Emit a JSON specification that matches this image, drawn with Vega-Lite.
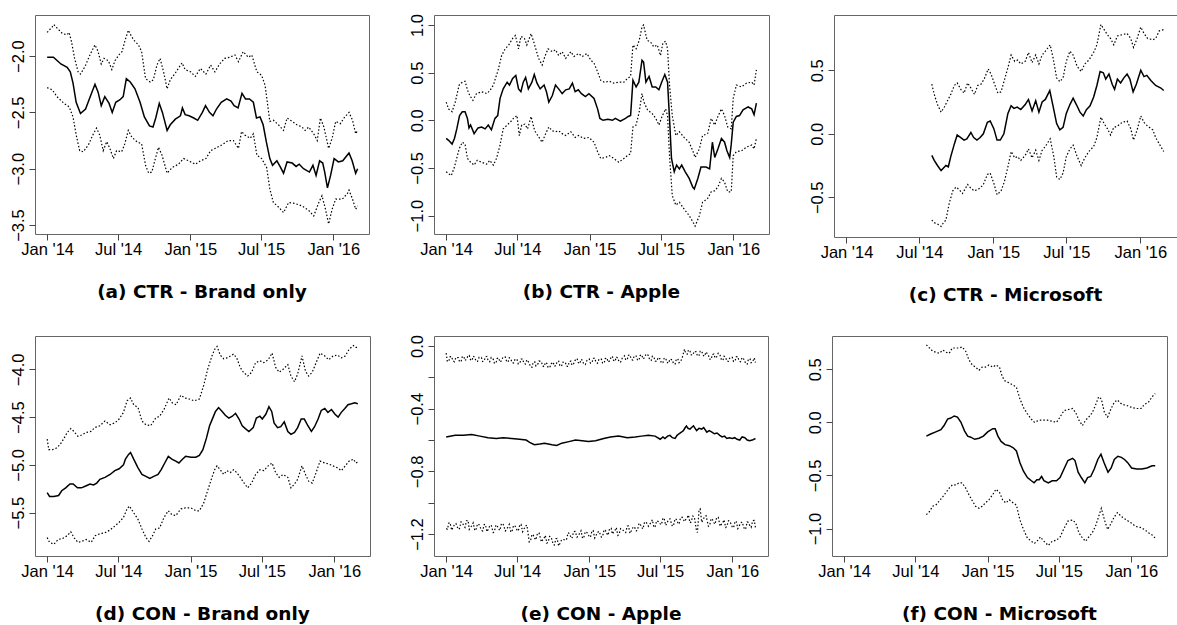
{
"$schema": "https://vega.github.io/schema/vega-lite/v6.json",
"padding": {"left": 9, "top": 13, "right": 0, "bottom": 0},
"background": "white",
"config": {
"view": {"stroke": "#666", "strokeWidth": 1},
"axis": {"domain": false, "grid": false, "tickColor": "#444", "tickSize": 6, "tickWidth": 1, "labelFont": "Liberation Sans", "labelFontSize": 16.5, "labelColor": "#000"},
"axisX": {"labelPadding": 1, "labelFlush": false, "labelOverlap": false},
"axisY": {"labelAngle": -90, "labelAlign": "center", "labelBaseline": "bottom", "labelPadding": 3, "labelOverlap": false},
"title": {"font": "DejaVu Sans", "fontSize": 18.5, "fontWeight": "bold", "color": "#000", "orient": "bottom", "frame": "group", "offset": 25, "anchor": "middle"}
},
"datasets": {
"a": [
{"s":"m","d":"2014-01-01","v":-2.01},{"s":"m","d":"2014-01-17","v":-2.01},{"s":"m","d":"2014-02-05","v":-2.07},{"s":"m","d":"2014-02-21","v":-2.10},{"s":"m","d":"2014-03-01","v":-2.14},{"s":"m","d":"2014-03-08","v":-2.24},{"s":"m","d":"2014-03-16","v":-2.41},{"s":"m","d":"2014-03-27","v":-2.51},{"s":"m","d":"2014-04-09","v":-2.47},{"s":"m","d":"2014-04-22","v":-2.35},{"s":"m","d":"2014-05-03","v":-2.25},{"s":"m","d":"2014-05-11","v":-2.32},{"s":"m","d":"2014-05-19","v":-2.44},{"s":"m","d":"2014-05-28","v":-2.36},{"s":"m","d":"2014-06-08","v":-2.42},{"s":"m","d":"2014-06-16","v":-2.50},{"s":"m","d":"2014-06-25","v":-2.41},{"s":"m","d":"2014-07-05","v":-2.39},{"s":"m","d":"2014-07-14","v":-2.36},{"s":"m","d":"2014-07-22","v":-2.20},{"s":"m","d":"2014-08-01","v":-2.23},{"s":"m","d":"2014-08-13","v":-2.29},{"s":"m","d":"2014-08-26","v":-2.41},{"s":"m","d":"2014-09-06","v":-2.54},{"s":"m","d":"2014-09-19","v":-2.62},{"s":"m","d":"2014-09-28","v":-2.63},{"s":"m","d":"2014-10-05","v":-2.55},{"s":"m","d":"2014-10-14","v":-2.42},{"s":"m","d":"2014-10-22","v":-2.50},{"s":"m","d":"2014-11-03","v":-2.66},{"s":"m","d":"2014-11-11","v":-2.61},{"s":"m","d":"2014-11-24","v":-2.56},{"s":"m","d":"2014-12-07","v":-2.53},{"s":"m","d":"2014-12-12","v":-2.46},{"s":"m","d":"2014-12-19","v":-2.52},{"s":"m","d":"2014-12-29","v":-2.53},{"s":"m","d":"2015-01-10","v":-2.55},{"s":"m","d":"2015-01-20","v":-2.57},{"s":"m","d":"2015-02-01","v":-2.50},{"s":"m","d":"2015-02-09","v":-2.44},{"s":"m","d":"2015-02-19","v":-2.50},{"s":"m","d":"2015-02-28","v":-2.53},{"s":"m","d":"2015-03-09","v":-2.47},{"s":"m","d":"2015-03-21","v":-2.41},{"s":"m","d":"2015-04-04","v":-2.38},{"s":"m","d":"2015-04-15","v":-2.40},{"s":"m","d":"2015-04-23","v":-2.44},{"s":"m","d":"2015-05-03","v":-2.46},{"s":"m","d":"2015-05-13","v":-2.33},{"s":"m","d":"2015-05-22","v":-2.38},{"s":"m","d":"2015-06-01","v":-2.38},{"s":"m","d":"2015-06-11","v":-2.41},{"s":"m","d":"2015-06-19","v":-2.55},{"s":"m","d":"2015-06-28","v":-2.54},{"s":"m","d":"2015-07-06","v":-2.61},{"s":"m","d":"2015-07-14","v":-2.76},{"s":"m","d":"2015-07-23","v":-2.91},{"s":"m","d":"2015-07-30","v":-2.97},{"s":"m","d":"2015-08-10","v":-2.93},{"s":"m","d":"2015-08-18","v":-2.98},{"s":"m","d":"2015-08-27","v":-3.04},{"s":"m","d":"2015-09-05","v":-2.94},{"s":"m","d":"2015-09-18","v":-2.95},{"s":"m","d":"2015-09-28","v":-2.98},{"s":"m","d":"2015-10-06","v":-2.96},{"s":"m","d":"2015-10-17","v":-3.00},{"s":"m","d":"2015-11-01","v":-3.03},{"s":"m","d":"2015-11-10","v":-2.97},{"s":"m","d":"2015-11-18","v":-3.06},{"s":"m","d":"2015-11-27","v":-2.93},{"s":"m","d":"2015-12-05","v":-2.95},{"s":"m","d":"2015-12-10","v":-3.03},{"s":"m","d":"2015-12-17","v":-3.17},{"s":"m","d":"2015-12-25","v":-3.06},{"s":"m","d":"2016-01-03","v":-2.91},{"s":"m","d":"2016-01-14","v":-2.94},{"s":"m","d":"2016-01-25","v":-2.93},{"s":"m","d":"2016-02-10","v":-2.86},{"s":"m","d":"2016-02-18","v":-2.93},{"s":"m","d":"2016-02-27","v":-3.04},{"s":"m","d":"2016-03-03","v":-3.00},
{"s":"u","d":"2014-01-01","v":-1.79},{"s":"u","d":"2014-01-14","v":-1.74},{"s":"u","d":"2014-01-18","v":-1.72},{"s":"u","d":"2014-01-26","v":-1.75},{"s":"u","d":"2014-02-09","v":-1.80},{"s":"u","d":"2014-02-21","v":-1.81},{"s":"u","d":"2014-02-26","v":-1.79},{"s":"u","d":"2014-03-04","v":-1.87},{"s":"u","d":"2014-03-12","v":-2.02},{"s":"u","d":"2014-03-21","v":-2.14},{"s":"u","d":"2014-03-27","v":-2.16},{"s":"u","d":"2014-04-08","v":-2.09},{"s":"u","d":"2014-04-20","v":-1.99},{"s":"u","d":"2014-05-03","v":-1.90},{"s":"u","d":"2014-05-11","v":-1.96},{"s":"u","d":"2014-05-19","v":-2.07},{"s":"u","d":"2014-05-26","v":-2.02},{"s":"u","d":"2014-06-06","v":-2.04},{"s":"u","d":"2014-06-15","v":-2.12},{"s":"u","d":"2014-06-23","v":-2.04},{"s":"u","d":"2014-07-03","v":-1.99},{"s":"u","d":"2014-07-11","v":-1.96},{"s":"u","d":"2014-07-18","v":-1.87},{"s":"u","d":"2014-07-27","v":-1.77},{"s":"u","d":"2014-08-05","v":-1.83},{"s":"u","d":"2014-08-13","v":-1.87},{"s":"u","d":"2014-08-22","v":-1.90},{"s":"u","d":"2014-08-30","v":-1.96},{"s":"u","d":"2014-09-09","v":-2.20},{"s":"u","d":"2014-09-21","v":-2.23},{"s":"u","d":"2014-09-29","v":-2.21},{"s":"u","d":"2014-10-08","v":-2.08},{"s":"u","d":"2014-10-16","v":-2.02},{"s":"u","d":"2014-10-25","v":-2.14},{"s":"u","d":"2014-11-03","v":-2.29},{"s":"u","d":"2014-11-11","v":-2.21},{"s":"u","d":"2014-11-24","v":-2.15},{"s":"u","d":"2014-12-11","v":-2.06},{"s":"u","d":"2014-12-19","v":-2.12},{"s":"u","d":"2015-01-02","v":-2.14},{"s":"u","d":"2015-01-14","v":-2.18},{"s":"u","d":"2015-01-27","v":-2.11},{"s":"u","d":"2015-02-10","v":-2.16},{"s":"u","d":"2015-02-22","v":-2.08},{"s":"u","d":"2015-03-05","v":-2.14},{"s":"u","d":"2015-03-17","v":-2.07},{"s":"u","d":"2015-03-30","v":-2.02},{"s":"u","d":"2015-04-12","v":-2.01},{"s":"u","d":"2015-04-25","v":-1.99},{"s":"u","d":"2015-05-04","v":-2.05},{"s":"u","d":"2015-05-16","v":-1.96},{"s":"u","d":"2015-05-29","v":-2.01},{"s":"u","d":"2015-06-07","v":-1.99},{"s":"u","d":"2015-06-20","v":-2.14},{"s":"u","d":"2015-07-02","v":-2.17},{"s":"u","d":"2015-07-11","v":-2.26},{"s":"u","d":"2015-07-23","v":-2.58},{"s":"u","d":"2015-08-01","v":-2.57},{"s":"u","d":"2015-08-14","v":-2.61},{"s":"u","d":"2015-08-27","v":-2.66},{"s":"u","d":"2015-09-05","v":-2.55},{"s":"u","d":"2015-09-18","v":-2.58},{"s":"u","d":"2015-09-30","v":-2.61},{"s":"u","d":"2015-10-13","v":-2.63},{"s":"u","d":"2015-10-21","v":-2.66},{"s":"u","d":"2015-10-30","v":-2.63},{"s":"u","d":"2015-11-12","v":-2.69},{"s":"u","d":"2015-11-21","v":-2.75},{"s":"u","d":"2015-11-29","v":-2.55},{"s":"u","d":"2015-12-08","v":-2.63},{"s":"u","d":"2015-12-20","v":-2.82},{"s":"u","d":"2015-12-29","v":-2.73},{"s":"u","d":"2016-01-07","v":-2.58},{"s":"u","d":"2016-01-19","v":-2.60},{"s":"u","d":"2016-01-28","v":-2.55},{"s":"u","d":"2016-02-10","v":-2.50},{"s":"u","d":"2016-02-19","v":-2.57},{"s":"u","d":"2016-02-27","v":-2.69},{"s":"u","d":"2016-03-03","v":-2.66},
{"s":"l","d":"2014-01-01","v":-2.28},{"s":"l","d":"2014-01-14","v":-2.30},{"s":"l","d":"2014-01-26","v":-2.36},{"s":"l","d":"2014-02-13","v":-2.42},{"s":"l","d":"2014-02-26","v":-2.45},{"s":"l","d":"2014-03-08","v":-2.54},{"s":"l","d":"2014-03-16","v":-2.70},{"s":"l","d":"2014-03-25","v":-2.84},{"s":"l","d":"2014-04-03","v":-2.85},{"s":"l","d":"2014-04-16","v":-2.79},{"s":"l","d":"2014-04-29","v":-2.69},{"s":"l","d":"2014-05-07","v":-2.64},{"s":"l","d":"2014-05-15","v":-2.70},{"s":"l","d":"2014-05-24","v":-2.84},{"s":"l","d":"2014-06-02","v":-2.76},{"s":"l","d":"2014-06-10","v":-2.82},{"s":"l","d":"2014-06-19","v":-2.91},{"s":"l","d":"2014-06-27","v":-2.84},{"s":"l","d":"2014-07-10","v":-2.85},{"s":"l","d":"2014-07-18","v":-2.78},{"s":"l","d":"2014-07-27","v":-2.66},{"s":"l","d":"2014-08-05","v":-2.72},{"s":"l","d":"2014-08-18","v":-2.76},{"s":"l","d":"2014-08-30","v":-2.78},{"s":"l","d":"2014-09-09","v":-2.97},{"s":"l","d":"2014-09-17","v":-3.04},{"s":"l","d":"2014-09-25","v":-3.03},{"s":"l","d":"2014-10-04","v":-2.91},{"s":"l","d":"2014-10-12","v":-2.81},{"s":"l","d":"2014-10-21","v":-2.88},{"s":"l","d":"2014-11-03","v":-3.04},{"s":"l","d":"2014-11-16","v":-2.99},{"s":"l","d":"2014-12-02","v":-2.96},{"s":"l","d":"2014-12-15","v":-2.91},{"s":"l","d":"2014-12-28","v":-2.93},{"s":"l","d":"2015-01-14","v":-2.96},{"s":"l","d":"2015-01-27","v":-2.93},{"s":"l","d":"2015-02-10","v":-2.91},{"s":"l","d":"2015-02-22","v":-2.84},{"s":"l","d":"2015-03-05","v":-2.82},{"s":"l","d":"2015-03-22","v":-2.79},{"s":"l","d":"2015-04-08","v":-2.75},{"s":"l","d":"2015-04-21","v":-2.75},{"s":"l","d":"2015-05-04","v":-2.82},{"s":"l","d":"2015-05-12","v":-2.67},{"s":"l","d":"2015-05-20","v":-2.70},{"s":"l","d":"2015-06-03","v":-2.73},{"s":"l","d":"2015-06-11","v":-2.69},{"s":"l","d":"2015-06-20","v":-2.88},{"s":"l","d":"2015-07-02","v":-2.91},{"s":"l","d":"2015-07-15","v":-2.99},{"s":"l","d":"2015-07-23","v":-3.18},{"s":"l","d":"2015-08-01","v":-3.30},{"s":"l","d":"2015-08-14","v":-3.34},{"s":"l","d":"2015-08-27","v":-3.39},{"s":"l","d":"2015-09-09","v":-3.30},{"s":"l","d":"2015-09-26","v":-3.31},{"s":"l","d":"2015-10-13","v":-3.33},{"s":"l","d":"2015-10-30","v":-3.37},{"s":"l","d":"2015-11-12","v":-3.42},{"s":"l","d":"2015-11-25","v":-3.30},{"s":"l","d":"2015-12-03","v":-3.24},{"s":"l","d":"2015-12-12","v":-3.36},{"s":"l","d":"2015-12-20","v":-3.49},{"s":"l","d":"2015-12-29","v":-3.36},{"s":"l","d":"2016-01-07","v":-3.27},{"s":"l","d":"2016-01-24","v":-3.27},{"s":"l","d":"2016-02-06","v":-3.22},{"s":"l","d":"2016-02-10","v":-3.19},{"s":"l","d":"2016-02-19","v":-3.27},{"s":"l","d":"2016-02-27","v":-3.36},{"s":"l","d":"2016-03-03","v":-3.33}
],
"b": [
{"s":"m","d":"2014-01-01","v":-0.19},{"s":"m","d":"2014-01-07","v":-0.21},{"s":"m","d":"2014-01-16","v":-0.25},{"s":"m","d":"2014-01-22","v":-0.19},{"s":"m","d":"2014-01-28","v":-0.09},{"s":"m","d":"2014-02-04","v":0.05},{"s":"m","d":"2014-02-11","v":0.09},{"s":"m","d":"2014-02-18","v":0.09},{"s":"m","d":"2014-02-24","v":0.02},{"s":"m","d":"2014-02-28","v":-0.08},{"s":"m","d":"2014-03-04","v":-0.05},{"s":"m","d":"2014-03-13","v":-0.14},{"s":"m","d":"2014-03-23","v":-0.08},{"s":"m","d":"2014-04-01","v":-0.07},{"s":"m","d":"2014-04-10","v":-0.09},{"s":"m","d":"2014-04-18","v":-0.05},{"s":"m","d":"2014-04-26","v":-0.10},{"s":"m","d":"2014-05-05","v":0.02},{"s":"m","d":"2014-05-12","v":0.05},{"s":"m","d":"2014-05-18","v":0.23},{"s":"m","d":"2014-05-26","v":0.33},{"s":"m","d":"2014-06-05","v":0.40},{"s":"m","d":"2014-06-11","v":0.37},{"s":"m","d":"2014-06-19","v":0.44},{"s":"m","d":"2014-06-27","v":0.47},{"s":"m","d":"2014-07-04","v":0.33},{"s":"m","d":"2014-07-10","v":0.30},{"s":"m","d":"2014-07-16","v":0.40},{"s":"m","d":"2014-07-22","v":0.45},{"s":"m","d":"2014-07-29","v":0.33},{"s":"m","d":"2014-08-07","v":0.40},{"s":"m","d":"2014-08-13","v":0.48},{"s":"m","d":"2014-08-20","v":0.39},{"s":"m","d":"2014-08-28","v":0.33},{"s":"m","d":"2014-09-07","v":0.37},{"s":"m","d":"2014-09-13","v":0.30},{"s":"m","d":"2014-09-19","v":0.19},{"s":"m","d":"2014-09-28","v":0.26},{"s":"m","d":"2014-10-06","v":0.37},{"s":"m","d":"2014-10-14","v":0.33},{"s":"m","d":"2014-10-23","v":0.28},{"s":"m","d":"2014-11-01","v":0.32},{"s":"m","d":"2014-11-10","v":0.33},{"s":"m","d":"2014-11-18","v":0.39},{"s":"m","d":"2014-11-25","v":0.30},{"s":"m","d":"2014-12-03","v":0.32},{"s":"m","d":"2014-12-11","v":0.28},{"s":"m","d":"2014-12-21","v":0.25},{"s":"m","d":"2014-12-30","v":0.28},{"s":"m","d":"2015-01-12","v":0.23},{"s":"m","d":"2015-01-21","v":0.12},{"s":"m","d":"2015-01-27","v":0.02},{"s":"m","d":"2015-02-04","v":0.00},{"s":"m","d":"2015-02-16","v":0.01},{"s":"m","d":"2015-02-28","v":0.00},{"s":"m","d":"2015-03-07","v":0.02},{"s":"m","d":"2015-03-20","v":-0.01},{"s":"m","d":"2015-04-02","v":0.02},{"s":"m","d":"2015-04-09","v":0.04},{"s":"m","d":"2015-04-15","v":0.05},{"s":"m","d":"2015-04-21","v":0.42},{"s":"m","d":"2015-04-29","v":0.35},{"s":"m","d":"2015-05-06","v":0.40},{"s":"m","d":"2015-05-14","v":0.63},{"s":"m","d":"2015-05-18","v":0.61},{"s":"m","d":"2015-05-24","v":0.40},{"s":"m","d":"2015-06-01","v":0.46},{"s":"m","d":"2015-06-09","v":0.35},{"s":"m","d":"2015-06-18","v":0.35},{"s":"m","d":"2015-06-26","v":0.32},{"s":"m","d":"2015-07-03","v":0.40},{"s":"m","d":"2015-07-11","v":0.48},{"s":"m","d":"2015-07-18","v":0.40},{"s":"m","d":"2015-07-23","v":0.02},{"s":"m","d":"2015-07-28","v":-0.40},{"s":"m","d":"2015-08-04","v":-0.54},{"s":"m","d":"2015-08-10","v":-0.47},{"s":"m","d":"2015-08-17","v":-0.51},{"s":"m","d":"2015-08-23","v":-0.47},{"s":"m","d":"2015-09-01","v":-0.54},{"s":"m","d":"2015-09-11","v":-0.61},{"s":"m","d":"2015-09-20","v":-0.70},{"s":"m","d":"2015-09-24","v":-0.72},{"s":"m","d":"2015-10-03","v":-0.61},{"s":"m","d":"2015-10-11","v":-0.49},{"s":"m","d":"2015-10-24","v":-0.49},{"s":"m","d":"2015-11-02","v":-0.51},{"s":"m","d":"2015-11-09","v":-0.23},{"s":"m","d":"2015-11-15","v":-0.39},{"s":"m","d":"2015-11-23","v":-0.30},{"s":"m","d":"2015-12-02","v":-0.19},{"s":"m","d":"2015-12-10","v":-0.23},{"s":"m","d":"2015-12-16","v":-0.32},{"s":"m","d":"2015-12-23","v":-0.39},{"s":"m","d":"2015-12-27","v":-0.25},{"s":"m","d":"2016-01-01","v":-0.02},{"s":"m","d":"2016-01-09","v":0.04},{"s":"m","d":"2016-01-17","v":0.05},{"s":"m","d":"2016-01-26","v":0.11},{"s":"m","d":"2016-02-08","v":0.14},{"s":"m","d":"2016-02-17","v":0.12},{"s":"m","d":"2016-02-23","v":0.06},{"s":"m","d":"2016-02-29","v":0.18},
{"s":"u","d":"2014-01-01","v":0.19},{"s":"u","d":"2014-01-07","v":0.12},{"s":"u","d":"2014-01-16","v":0.09},{"s":"u","d":"2014-01-24","v":0.19},{"s":"u","d":"2014-02-03","v":0.37},{"s":"u","d":"2014-02-11","v":0.40},{"s":"u","d":"2014-02-18","v":0.41},{"s":"u","d":"2014-02-24","v":0.32},{"s":"u","d":"2014-03-02","v":0.26},{"s":"u","d":"2014-03-10","v":0.21},{"s":"u","d":"2014-03-19","v":0.28},{"s":"u","d":"2014-04-01","v":0.30},{"s":"u","d":"2014-04-14","v":0.28},{"s":"u","d":"2014-04-22","v":0.31},{"s":"u","d":"2014-05-01","v":0.37},{"s":"u","d":"2014-05-14","v":0.54},{"s":"u","d":"2014-05-22","v":0.68},{"s":"u","d":"2014-05-31","v":0.75},{"s":"u","d":"2014-06-09","v":0.79},{"s":"u","d":"2014-06-19","v":0.86},{"s":"u","d":"2014-06-26","v":0.89},{"s":"u","d":"2014-07-04","v":0.75},{"s":"u","d":"2014-07-10","v":0.88},{"s":"u","d":"2014-07-19","v":0.86},{"s":"u","d":"2014-07-25","v":0.79},{"s":"u","d":"2014-08-05","v":0.91},{"s":"u","d":"2014-08-14","v":0.79},{"s":"u","d":"2014-08-24","v":0.65},{"s":"u","d":"2014-09-02","v":0.58},{"s":"u","d":"2014-09-09","v":0.67},{"s":"u","d":"2014-09-17","v":0.75},{"s":"u","d":"2014-09-28","v":0.72},{"s":"u","d":"2014-10-06","v":0.74},{"s":"u","d":"2014-10-14","v":0.68},{"s":"u","d":"2014-10-23","v":0.72},{"s":"u","d":"2014-11-01","v":0.65},{"s":"u","d":"2014-11-14","v":0.72},{"s":"u","d":"2014-11-22","v":0.67},{"s":"u","d":"2014-12-04","v":0.70},{"s":"u","d":"2014-12-13","v":0.67},{"s":"u","d":"2014-12-25","v":0.70},{"s":"u","d":"2015-01-04","v":0.63},{"s":"u","d":"2015-01-12","v":0.60},{"s":"u","d":"2015-01-21","v":0.51},{"s":"u","d":"2015-01-29","v":0.42},{"s":"u","d":"2015-02-07","v":0.40},{"s":"u","d":"2015-02-20","v":0.41},{"s":"u","d":"2015-03-03","v":0.39},{"s":"u","d":"2015-03-16","v":0.40},{"s":"u","d":"2015-03-29","v":0.40},{"s":"u","d":"2015-04-07","v":0.44},{"s":"u","d":"2015-04-15","v":0.46},{"s":"u","d":"2015-04-21","v":0.79},{"s":"u","d":"2015-04-29","v":0.75},{"s":"u","d":"2015-05-07","v":0.84},{"s":"u","d":"2015-05-14","v":0.98},{"s":"u","d":"2015-05-18","v":1.00},{"s":"u","d":"2015-05-27","v":0.84},{"s":"u","d":"2015-06-05","v":0.82},{"s":"u","d":"2015-06-13","v":0.77},{"s":"u","d":"2015-06-22","v":0.79},{"s":"u","d":"2015-06-30","v":0.68},{"s":"u","d":"2015-07-06","v":0.81},{"s":"u","d":"2015-07-13","v":0.83},{"s":"u","d":"2015-07-18","v":0.75},{"s":"u","d":"2015-07-23","v":0.37},{"s":"u","d":"2015-07-30","v":0.05},{"s":"u","d":"2015-08-08","v":-0.16},{"s":"u","d":"2015-08-17","v":-0.12},{"s":"u","d":"2015-08-29","v":-0.18},{"s":"u","d":"2015-09-11","v":-0.23},{"s":"u","d":"2015-09-21","v":-0.33},{"s":"u","d":"2015-09-26","v":-0.39},{"s":"u","d":"2015-10-07","v":-0.30},{"s":"u","d":"2015-10-15","v":-0.16},{"s":"u","d":"2015-10-28","v":-0.14},{"s":"u","d":"2015-11-06","v":0.02},{"s":"u","d":"2015-11-15","v":-0.05},{"s":"u","d":"2015-11-23","v":0.04},{"s":"u","d":"2015-12-02","v":0.12},{"s":"u","d":"2015-12-10","v":0.05},{"s":"u","d":"2015-12-18","v":-0.07},{"s":"u","d":"2015-12-27","v":-0.09},{"s":"u","d":"2016-01-01","v":0.23},{"s":"u","d":"2016-01-09","v":0.37},{"s":"u","d":"2016-01-22","v":0.35},{"s":"u","d":"2016-02-04","v":0.39},{"s":"u","d":"2016-02-17","v":0.40},{"s":"u","d":"2016-02-23","v":0.37},{"s":"u","d":"2016-02-29","v":0.53},
{"s":"l","d":"2014-01-01","v":-0.54},{"s":"l","d":"2014-01-07","v":-0.56},{"s":"l","d":"2014-01-14","v":-0.58},{"s":"l","d":"2014-01-22","v":-0.49},{"s":"l","d":"2014-02-03","v":-0.30},{"s":"l","d":"2014-02-11","v":-0.23},{"s":"l","d":"2014-02-18","v":-0.25},{"s":"l","d":"2014-02-24","v":-0.40},{"s":"l","d":"2014-03-04","v":-0.44},{"s":"l","d":"2014-03-13","v":-0.47},{"s":"l","d":"2014-03-21","v":-0.42},{"s":"l","d":"2014-04-01","v":-0.44},{"s":"l","d":"2014-04-14","v":-0.46},{"s":"l","d":"2014-04-22","v":-0.42},{"s":"l","d":"2014-05-01","v":-0.47},{"s":"l","d":"2014-05-09","v":-0.40},{"s":"l","d":"2014-05-18","v":-0.26},{"s":"l","d":"2014-05-26","v":-0.09},{"s":"l","d":"2014-06-05","v":-0.05},{"s":"l","d":"2014-06-13","v":-0.02},{"s":"l","d":"2014-06-21","v":0.02},{"s":"l","d":"2014-06-30","v":0.05},{"s":"l","d":"2014-07-06","v":-0.16},{"s":"l","d":"2014-07-12","v":-0.05},{"s":"l","d":"2014-07-20","v":-0.04},{"s":"l","d":"2014-07-27","v":-0.09},{"s":"l","d":"2014-08-05","v":0.04},{"s":"l","d":"2014-08-14","v":-0.11},{"s":"l","d":"2014-08-22","v":-0.16},{"s":"l","d":"2014-09-02","v":-0.23},{"s":"l","d":"2014-09-11","v":-0.14},{"s":"l","d":"2014-09-19","v":-0.07},{"s":"l","d":"2014-09-28","v":-0.11},{"s":"l","d":"2014-10-06","v":-0.12},{"s":"l","d":"2014-10-14","v":-0.11},{"s":"l","d":"2014-10-23","v":-0.14},{"s":"l","d":"2014-11-01","v":-0.16},{"s":"l","d":"2014-11-14","v":-0.12},{"s":"l","d":"2014-11-25","v":-0.18},{"s":"l","d":"2014-12-04","v":-0.16},{"s":"l","d":"2014-12-17","v":-0.19},{"s":"l","d":"2014-12-30","v":-0.18},{"s":"l","d":"2015-01-12","v":-0.23},{"s":"l","d":"2015-01-21","v":-0.33},{"s":"l","d":"2015-01-29","v":-0.40},{"s":"l","d":"2015-02-10","v":-0.39},{"s":"l","d":"2015-02-20","v":-0.37},{"s":"l","d":"2015-03-03","v":-0.40},{"s":"l","d":"2015-03-16","v":-0.44},{"s":"l","d":"2015-03-29","v":-0.40},{"s":"l","d":"2015-04-07","v":-0.37},{"s":"l","d":"2015-04-15","v":-0.35},{"s":"l","d":"2015-04-21","v":-0.07},{"s":"l","d":"2015-04-29","v":-0.05},{"s":"l","d":"2015-05-07","v":0.09},{"s":"l","d":"2015-05-14","v":0.28},{"s":"l","d":"2015-05-19","v":0.19},{"s":"l","d":"2015-05-28","v":0.11},{"s":"l","d":"2015-06-09","v":0.07},{"s":"l","d":"2015-06-18","v":0.02},{"s":"l","d":"2015-06-26","v":-0.05},{"s":"l","d":"2015-07-04","v":0.04},{"s":"l","d":"2015-07-13","v":0.12},{"s":"l","d":"2015-07-18","v":0.05},{"s":"l","d":"2015-07-23","v":-0.37},{"s":"l","d":"2015-07-30","v":-0.79},{"s":"l","d":"2015-08-08","v":-0.89},{"s":"l","d":"2015-08-17","v":-0.86},{"s":"l","d":"2015-08-29","v":-0.93},{"s":"l","d":"2015-09-11","v":-1.00},{"s":"l","d":"2015-09-21","v":-1.07},{"s":"l","d":"2015-09-26","v":-1.11},{"s":"l","d":"2015-10-07","v":-1.00},{"s":"l","d":"2015-10-15","v":-0.86},{"s":"l","d":"2015-10-28","v":-0.82},{"s":"l","d":"2015-11-06","v":-0.75},{"s":"l","d":"2015-11-15","v":-0.74},{"s":"l","d":"2015-11-23","v":-0.70},{"s":"l","d":"2015-12-02","v":-0.61},{"s":"l","d":"2015-12-10","v":-0.65},{"s":"l","d":"2015-12-18","v":-0.75},{"s":"l","d":"2015-12-27","v":-0.75},{"s":"l","d":"2016-01-01","v":-0.37},{"s":"l","d":"2016-01-09","v":-0.33},{"s":"l","d":"2016-01-22","v":-0.32},{"s":"l","d":"2016-02-04","v":-0.28},{"s":"l","d":"2016-02-17","v":-0.26},{"s":"l","d":"2016-02-23","v":-0.30},{"s":"l","d":"2016-02-29","v":-0.19}
],
"c": [
{"s":"m","d":"2014-08-01","v":-0.17},{"s":"m","d":"2014-08-07","v":-0.21},{"s":"m","d":"2014-08-15","v":-0.25},{"s":"m","d":"2014-08-24","v":-0.29},{"s":"m","d":"2014-08-30","v":-0.27},{"s":"m","d":"2014-09-05","v":-0.25},{"s":"m","d":"2014-09-11","v":-0.26},{"s":"m","d":"2014-09-17","v":-0.18},{"s":"m","d":"2014-09-26","v":-0.08},{"s":"m","d":"2014-10-03","v":-0.01},{"s":"m","d":"2014-10-12","v":-0.03},{"s":"m","d":"2014-10-20","v":-0.05},{"s":"m","d":"2014-10-27","v":-0.04},{"s":"m","d":"2014-11-06","v":0.01},{"s":"m","d":"2014-11-13","v":-0.03},{"s":"m","d":"2014-11-21","v":-0.05},{"s":"m","d":"2014-11-29","v":-0.03},{"s":"m","d":"2014-12-07","v":0.00},{"s":"m","d":"2014-12-17","v":0.09},{"s":"m","d":"2014-12-24","v":0.10},{"s":"m","d":"2015-01-02","v":0.04},{"s":"m","d":"2015-01-10","v":-0.05},{"s":"m","d":"2015-01-18","v":-0.05},{"s":"m","d":"2015-01-27","v":0.00},{"s":"m","d":"2015-02-06","v":0.16},{"s":"m","d":"2015-02-14","v":0.22},{"s":"m","d":"2015-02-21","v":0.20},{"s":"m","d":"2015-03-01","v":0.21},{"s":"m","d":"2015-03-10","v":0.19},{"s":"m","d":"2015-03-21","v":0.23},{"s":"m","d":"2015-03-29","v":0.27},{"s":"m","d":"2015-04-07","v":0.18},{"s":"m","d":"2015-04-16","v":0.26},{"s":"m","d":"2015-04-24","v":0.17},{"s":"m","d":"2015-05-02","v":0.25},{"s":"m","d":"2015-05-10","v":0.27},{"s":"m","d":"2015-05-21","v":0.34},{"s":"m","d":"2015-05-29","v":0.22},{"s":"m","d":"2015-06-07","v":0.08},{"s":"m","d":"2015-06-15","v":0.03},{"s":"m","d":"2015-06-23","v":0.05},{"s":"m","d":"2015-07-01","v":0.16},{"s":"m","d":"2015-07-10","v":0.23},{"s":"m","d":"2015-07-18","v":0.28},{"s":"m","d":"2015-07-26","v":0.23},{"s":"m","d":"2015-08-04","v":0.17},{"s":"m","d":"2015-08-12","v":0.14},{"s":"m","d":"2015-08-20","v":0.19},{"s":"m","d":"2015-08-29","v":0.22},{"s":"m","d":"2015-09-07","v":0.29},{"s":"m","d":"2015-09-15","v":0.38},{"s":"m","d":"2015-09-23","v":0.49},{"s":"m","d":"2015-10-01","v":0.48},{"s":"m","d":"2015-10-07","v":0.43},{"s":"m","d":"2015-10-15","v":0.47},{"s":"m","d":"2015-10-23","v":0.39},{"s":"m","d":"2015-10-29","v":0.35},{"s":"m","d":"2015-11-05","v":0.43},{"s":"m","d":"2015-11-13","v":0.40},{"s":"m","d":"2015-11-21","v":0.44},{"s":"m","d":"2015-11-29","v":0.47},{"s":"m","d":"2015-12-06","v":0.43},{"s":"m","d":"2015-12-14","v":0.33},{"s":"m","d":"2015-12-22","v":0.39},{"s":"m","d":"2016-01-02","v":0.50},{"s":"m","d":"2016-01-10","v":0.45},{"s":"m","d":"2016-01-17","v":0.46},{"s":"m","d":"2016-01-27","v":0.42},{"s":"m","d":"2016-02-08","v":0.38},{"s":"m","d":"2016-02-21","v":0.36},{"s":"m","d":"2016-02-28","v":0.34},
{"s":"u","d":"2014-08-01","v":0.39},{"s":"u","d":"2014-08-07","v":0.31},{"s":"u","d":"2014-08-15","v":0.23},{"s":"u","d":"2014-08-24","v":0.17},{"s":"u","d":"2014-09-01","v":0.21},{"s":"u","d":"2014-09-09","v":0.26},{"s":"u","d":"2014-09-17","v":0.31},{"s":"u","d":"2014-09-26","v":0.38},{"s":"u","d":"2014-10-03","v":0.40},{"s":"u","d":"2014-10-12","v":0.35},{"s":"u","d":"2014-10-20","v":0.32},{"s":"u","d":"2014-10-29","v":0.40},{"s":"u","d":"2014-11-06","v":0.36},{"s":"u","d":"2014-11-15","v":0.31},{"s":"u","d":"2014-11-23","v":0.38},{"s":"u","d":"2014-12-01","v":0.39},{"s":"u","d":"2014-12-09","v":0.43},{"s":"u","d":"2014-12-19","v":0.51},{"s":"u","d":"2014-12-26","v":0.47},{"s":"u","d":"2015-01-04","v":0.39},{"s":"u","d":"2015-01-12","v":0.32},{"s":"u","d":"2015-01-20","v":0.33},{"s":"u","d":"2015-01-28","v":0.42},{"s":"u","d":"2015-02-06","v":0.52},{"s":"u","d":"2015-02-14","v":0.62},{"s":"u","d":"2015-02-23","v":0.57},{"s":"u","d":"2015-03-02","v":0.58},{"s":"u","d":"2015-03-10","v":0.55},{"s":"u","d":"2015-03-21","v":0.57},{"s":"u","d":"2015-03-29","v":0.64},{"s":"u","d":"2015-04-07","v":0.56},{"s":"u","d":"2015-04-16","v":0.62},{"s":"u","d":"2015-04-24","v":0.55},{"s":"u","d":"2015-05-02","v":0.62},{"s":"u","d":"2015-05-10","v":0.65},{"s":"u","d":"2015-05-22","v":0.70},{"s":"u","d":"2015-05-29","v":0.60},{"s":"u","d":"2015-06-07","v":0.44},{"s":"u","d":"2015-06-15","v":0.41},{"s":"u","d":"2015-06-23","v":0.44},{"s":"u","d":"2015-07-01","v":0.57},{"s":"u","d":"2015-07-10","v":0.65},{"s":"u","d":"2015-07-18","v":0.62},{"s":"u","d":"2015-07-28","v":0.53},{"s":"u","d":"2015-08-07","v":0.49},{"s":"u","d":"2015-08-16","v":0.55},{"s":"u","d":"2015-08-26","v":0.58},{"s":"u","d":"2015-09-07","v":0.64},{"s":"u","d":"2015-09-15","v":0.70},{"s":"u","d":"2015-09-25","v":0.86},{"s":"u","d":"2015-10-03","v":0.82},{"s":"u","d":"2015-10-11","v":0.78},{"s":"u","d":"2015-10-19","v":0.75},{"s":"u","d":"2015-10-27","v":0.70},{"s":"u","d":"2015-11-05","v":0.77},{"s":"u","d":"2015-11-17","v":0.78},{"s":"u","d":"2015-11-29","v":0.79},{"s":"u","d":"2015-12-08","v":0.75},{"s":"u","d":"2015-12-15","v":0.68},{"s":"u","d":"2015-12-24","v":0.75},{"s":"u","d":"2016-01-02","v":0.84},{"s":"u","d":"2016-01-10","v":0.79},{"s":"u","d":"2016-01-19","v":0.75},{"s":"u","d":"2016-02-01","v":0.74},{"s":"u","d":"2016-02-08","v":0.75},{"s":"u","d":"2016-02-17","v":0.81},{"s":"u","d":"2016-02-28","v":0.82},
{"s":"l","d":"2014-08-01","v":-0.68},{"s":"l","d":"2014-08-07","v":-0.70},{"s":"l","d":"2014-08-15","v":-0.71},{"s":"l","d":"2014-08-24","v":-0.73},{"s":"l","d":"2014-08-30","v":-0.70},{"s":"l","d":"2014-09-05","v":-0.68},{"s":"l","d":"2014-09-13","v":-0.55},{"s":"l","d":"2014-09-22","v":-0.45},{"s":"l","d":"2014-09-30","v":-0.42},{"s":"l","d":"2014-10-08","v":-0.44},{"s":"l","d":"2014-10-16","v":-0.47},{"s":"l","d":"2014-10-29","v":-0.40},{"s":"l","d":"2014-11-06","v":-0.43},{"s":"l","d":"2014-11-15","v":-0.45},{"s":"l","d":"2014-11-28","v":-0.43},{"s":"l","d":"2014-12-07","v":-0.40},{"s":"l","d":"2014-12-17","v":-0.32},{"s":"l","d":"2014-12-24","v":-0.31},{"s":"l","d":"2015-01-02","v":-0.39},{"s":"l","d":"2015-01-10","v":-0.48},{"s":"l","d":"2015-01-20","v":-0.45},{"s":"l","d":"2015-01-28","v":-0.38},{"s":"l","d":"2015-02-06","v":-0.26},{"s":"l","d":"2015-02-14","v":-0.14},{"s":"l","d":"2015-02-23","v":-0.19},{"s":"l","d":"2015-03-02","v":-0.18},{"s":"l","d":"2015-03-10","v":-0.21},{"s":"l","d":"2015-03-21","v":-0.17},{"s":"l","d":"2015-03-29","v":-0.12},{"s":"l","d":"2015-04-07","v":-0.19},{"s":"l","d":"2015-04-16","v":-0.13},{"s":"l","d":"2015-04-24","v":-0.21},{"s":"l","d":"2015-05-02","v":-0.13},{"s":"l","d":"2015-05-10","v":-0.10},{"s":"l","d":"2015-05-22","v":-0.04},{"s":"l","d":"2015-05-31","v":-0.18},{"s":"l","d":"2015-06-07","v":-0.34},{"s":"l","d":"2015-06-15","v":-0.36},{"s":"l","d":"2015-06-23","v":-0.31},{"s":"l","d":"2015-07-01","v":-0.18},{"s":"l","d":"2015-07-10","v":-0.12},{"s":"l","d":"2015-07-18","v":-0.09},{"s":"l","d":"2015-07-28","v":-0.18},{"s":"l","d":"2015-08-07","v":-0.25},{"s":"l","d":"2015-08-16","v":-0.19},{"s":"l","d":"2015-08-26","v":-0.14},{"s":"l","d":"2015-09-07","v":-0.10},{"s":"l","d":"2015-09-15","v":-0.03},{"s":"l","d":"2015-09-25","v":0.13},{"s":"l","d":"2015-10-03","v":0.08},{"s":"l","d":"2015-10-11","v":0.04},{"s":"l","d":"2015-10-19","v":-0.01},{"s":"l","d":"2015-10-27","v":0.05},{"s":"l","d":"2015-11-05","v":0.06},{"s":"l","d":"2015-11-17","v":0.09},{"s":"l","d":"2015-11-29","v":0.10},{"s":"l","d":"2015-12-08","v":0.04},{"s":"l","d":"2015-12-15","v":-0.05},{"s":"l","d":"2015-12-24","v":0.03},{"s":"l","d":"2016-01-02","v":0.14},{"s":"l","d":"2016-01-10","v":0.09},{"s":"l","d":"2016-01-19","v":0.06},{"s":"l","d":"2016-02-01","v":0.03},{"s":"l","d":"2016-02-08","v":-0.03},{"s":"l","d":"2016-02-17","v":-0.08},{"s":"l","d":"2016-02-28","v":-0.14}
],
"d": [
{"s":"m","d":"2014-01-01","v":-5.29},{"s":"m","d":"2014-01-07","v":-5.33},{"s":"m","d":"2014-01-18","v":-5.33},{"s":"m","d":"2014-01-30","v":-5.32},{"s":"m","d":"2014-02-07","v":-5.27},{"s":"m","d":"2014-02-17","v":-5.24},{"s":"m","d":"2014-02-28","v":-5.20},{"s":"m","d":"2014-03-08","v":-5.20},{"s":"m","d":"2014-03-19","v":-5.24},{"s":"m","d":"2014-03-29","v":-5.24},{"s":"m","d":"2014-04-09","v":-5.22},{"s":"m","d":"2014-04-20","v":-5.20},{"s":"m","d":"2014-04-29","v":-5.21},{"s":"m","d":"2014-05-07","v":-5.19},{"s":"m","d":"2014-05-15","v":-5.15},{"s":"m","d":"2014-05-28","v":-5.13},{"s":"m","d":"2014-06-10","v":-5.10},{"s":"m","d":"2014-06-22","v":-5.06},{"s":"m","d":"2014-07-03","v":-5.04},{"s":"m","d":"2014-07-14","v":-5.00},{"s":"m","d":"2014-07-19","v":-4.94},{"s":"m","d":"2014-07-27","v":-4.89},{"s":"m","d":"2014-08-01","v":-4.87},{"s":"m","d":"2014-08-09","v":-4.94},{"s":"m","d":"2014-08-20","v":-5.03},{"s":"m","d":"2014-08-30","v":-5.10},{"s":"m","d":"2014-09-09","v":-5.12},{"s":"m","d":"2014-09-19","v":-5.14},{"s":"m","d":"2014-09-29","v":-5.12},{"s":"m","d":"2014-10-10","v":-5.10},{"s":"m","d":"2014-10-18","v":-5.05},{"s":"m","d":"2014-10-27","v":-4.98},{"s":"m","d":"2014-11-05","v":-4.91},{"s":"m","d":"2014-11-14","v":-4.94},{"s":"m","d":"2014-11-24","v":-4.96},{"s":"m","d":"2014-12-02","v":-4.98},{"s":"m","d":"2014-12-11","v":-4.94},{"s":"m","d":"2014-12-19","v":-4.91},{"s":"m","d":"2015-01-02","v":-4.92},{"s":"m","d":"2015-01-14","v":-4.92},{"s":"m","d":"2015-01-23","v":-4.90},{"s":"m","d":"2015-02-01","v":-4.84},{"s":"m","d":"2015-02-10","v":-4.72},{"s":"m","d":"2015-02-18","v":-4.59},{"s":"m","d":"2015-02-26","v":-4.51},{"s":"m","d":"2015-03-05","v":-4.44},{"s":"m","d":"2015-03-13","v":-4.40},{"s":"m","d":"2015-03-22","v":-4.44},{"s":"m","d":"2015-03-30","v":-4.48},{"s":"m","d":"2015-04-08","v":-4.51},{"s":"m","d":"2015-04-17","v":-4.49},{"s":"m","d":"2015-04-25","v":-4.46},{"s":"m","d":"2015-05-04","v":-4.52},{"s":"m","d":"2015-05-12","v":-4.59},{"s":"m","d":"2015-05-20","v":-4.62},{"s":"m","d":"2015-05-29","v":-4.65},{"s":"m","d":"2015-06-09","v":-4.61},{"s":"m","d":"2015-06-17","v":-4.51},{"s":"m","d":"2015-06-26","v":-4.49},{"s":"m","d":"2015-07-02","v":-4.52},{"s":"m","d":"2015-07-11","v":-4.47},{"s":"m","d":"2015-07-19","v":-4.39},{"s":"m","d":"2015-07-26","v":-4.44},{"s":"m","d":"2015-08-01","v":-4.56},{"s":"m","d":"2015-08-10","v":-4.61},{"s":"m","d":"2015-08-18","v":-4.60},{"s":"m","d":"2015-08-27","v":-4.55},{"s":"m","d":"2015-09-05","v":-4.65},{"s":"m","d":"2015-09-13","v":-4.68},{"s":"m","d":"2015-09-22","v":-4.66},{"s":"m","d":"2015-09-30","v":-4.61},{"s":"m","d":"2015-10-09","v":-4.52},{"s":"m","d":"2015-10-17","v":-4.52},{"s":"m","d":"2015-10-26","v":-4.59},{"s":"m","d":"2015-11-04","v":-4.65},{"s":"m","d":"2015-11-12","v":-4.60},{"s":"m","d":"2015-11-21","v":-4.52},{"s":"m","d":"2015-11-29","v":-4.43},{"s":"m","d":"2015-12-08","v":-4.41},{"s":"m","d":"2015-12-16","v":-4.45},{"s":"m","d":"2015-12-25","v":-4.42},{"s":"m","d":"2016-01-03","v":-4.47},{"s":"m","d":"2016-01-11","v":-4.50},{"s":"m","d":"2016-01-19","v":-4.45},{"s":"m","d":"2016-01-28","v":-4.41},{"s":"m","d":"2016-02-05","v":-4.37},{"s":"m","d":"2016-02-14","v":-4.36},{"s":"m","d":"2016-02-22","v":-4.35},{"s":"m","d":"2016-03-01","v":-4.36},
{"s":"u","d":"2014-01-01","v":-4.73},{"s":"u","d":"2014-01-05","v":-4.84},{"s":"u","d":"2014-01-15","v":-4.84},{"s":"u","d":"2014-01-26","v":-4.82},{"s":"u","d":"2014-02-04","v":-4.78},{"s":"u","d":"2014-02-13","v":-4.72},{"s":"u","d":"2014-02-21","v":-4.66},{"s":"u","d":"2014-03-02","v":-4.62},{"s":"u","d":"2014-03-10","v":-4.65},{"s":"u","d":"2014-03-20","v":-4.70},{"s":"u","d":"2014-03-28","v":-4.69},{"s":"u","d":"2014-04-10","v":-4.66},{"s":"u","d":"2014-04-22","v":-4.65},{"s":"u","d":"2014-05-02","v":-4.61},{"s":"u","d":"2014-05-15","v":-4.59},{"s":"u","d":"2014-05-28","v":-4.54},{"s":"u","d":"2014-06-10","v":-4.58},{"s":"u","d":"2014-06-22","v":-4.56},{"s":"u","d":"2014-07-03","v":-4.52},{"s":"u","d":"2014-07-14","v":-4.45},{"s":"u","d":"2014-07-23","v":-4.33},{"s":"u","d":"2014-08-01","v":-4.30},{"s":"u","d":"2014-08-09","v":-4.37},{"s":"u","d":"2014-08-20","v":-4.40},{"s":"u","d":"2014-08-30","v":-4.54},{"s":"u","d":"2014-09-09","v":-4.58},{"s":"u","d":"2014-09-21","v":-4.59},{"s":"u","d":"2014-10-04","v":-4.51},{"s":"u","d":"2014-10-14","v":-4.49},{"s":"u","d":"2014-10-25","v":-4.42},{"s":"u","d":"2014-11-07","v":-4.30},{"s":"u","d":"2014-11-15","v":-4.35},{"s":"u","d":"2014-11-25","v":-4.37},{"s":"u","d":"2014-12-07","v":-4.27},{"s":"u","d":"2014-12-17","v":-4.30},{"s":"u","d":"2014-12-28","v":-4.31},{"s":"u","d":"2015-01-10","v":-4.33},{"s":"u","d":"2015-01-23","v":-4.31},{"s":"u","d":"2015-02-03","v":-4.17},{"s":"u","d":"2015-02-13","v":-4.00},{"s":"u","d":"2015-02-24","v":-3.86},{"s":"u","d":"2015-03-03","v":-3.79},{"s":"u","d":"2015-03-09","v":-3.76},{"s":"u","d":"2015-03-17","v":-3.85},{"s":"u","d":"2015-03-26","v":-3.89},{"s":"u","d":"2015-04-03","v":-3.88},{"s":"u","d":"2015-04-12","v":-3.86},{"s":"u","d":"2015-04-20","v":-3.84},{"s":"u","d":"2015-04-28","v":-3.88},{"s":"u","d":"2015-05-07","v":-3.98},{"s":"u","d":"2015-05-15","v":-4.03},{"s":"u","d":"2015-05-26","v":-4.07},{"s":"u","d":"2015-06-05","v":-4.03},{"s":"u","d":"2015-06-15","v":-3.93},{"s":"u","d":"2015-06-26","v":-3.91},{"s":"u","d":"2015-07-06","v":-3.93},{"s":"u","d":"2015-07-17","v":-3.90},{"s":"u","d":"2015-07-27","v":-3.83},{"s":"u","d":"2015-08-05","v":-3.98},{"s":"u","d":"2015-08-14","v":-4.03},{"s":"u","d":"2015-08-24","v":-4.00},{"s":"u","d":"2015-09-05","v":-3.95},{"s":"u","d":"2015-09-13","v":-4.07},{"s":"u","d":"2015-09-22","v":-4.13},{"s":"u","d":"2015-09-30","v":-4.05},{"s":"u","d":"2015-10-11","v":-3.86},{"s":"u","d":"2015-10-20","v":-4.02},{"s":"u","d":"2015-10-28","v":-4.07},{"s":"u","d":"2015-11-06","v":-4.03},{"s":"u","d":"2015-11-16","v":-3.93},{"s":"u","d":"2015-11-26","v":-3.83},{"s":"u","d":"2015-12-08","v":-3.86},{"s":"u","d":"2015-12-18","v":-3.90},{"s":"u","d":"2015-12-29","v":-3.86},{"s":"u","d":"2016-01-09","v":-3.85},{"s":"u","d":"2016-01-19","v":-3.88},{"s":"u","d":"2016-01-29","v":-3.86},{"s":"u","d":"2016-02-08","v":-3.79},{"s":"u","d":"2016-02-19","v":-3.75},{"s":"u","d":"2016-02-25","v":-3.77},{"s":"u","d":"2016-03-01","v":-3.77},
{"s":"l","d":"2014-01-01","v":-5.76},{"s":"l","d":"2014-01-07","v":-5.81},{"s":"l","d":"2014-01-18","v":-5.83},{"s":"l","d":"2014-01-29","v":-5.78},{"s":"l","d":"2014-02-09","v":-5.77},{"s":"l","d":"2014-02-21","v":-5.74},{"s":"l","d":"2014-03-02","v":-5.70},{"s":"l","d":"2014-03-10","v":-5.76},{"s":"l","d":"2014-03-20","v":-5.81},{"s":"l","d":"2014-03-30","v":-5.80},{"s":"l","d":"2014-04-10","v":-5.78},{"s":"l","d":"2014-04-23","v":-5.81},{"s":"l","d":"2014-05-03","v":-5.74},{"s":"l","d":"2014-05-15","v":-5.72},{"s":"l","d":"2014-05-28","v":-5.71},{"s":"l","d":"2014-06-10","v":-5.68},{"s":"l","d":"2014-06-22","v":-5.64},{"s":"l","d":"2014-07-03","v":-5.60},{"s":"l","d":"2014-07-14","v":-5.55},{"s":"l","d":"2014-07-23","v":-5.46},{"s":"l","d":"2014-07-29","v":-5.43},{"s":"l","d":"2014-08-09","v":-5.50},{"s":"l","d":"2014-08-20","v":-5.57},{"s":"l","d":"2014-08-30","v":-5.67},{"s":"l","d":"2014-09-09","v":-5.76},{"s":"l","d":"2014-09-17","v":-5.80},{"s":"l","d":"2014-09-26","v":-5.74},{"s":"l","d":"2014-10-04","v":-5.67},{"s":"l","d":"2014-10-14","v":-5.66},{"s":"l","d":"2014-10-25","v":-5.55},{"s":"l","d":"2014-11-05","v":-5.48},{"s":"l","d":"2014-11-14","v":-5.52},{"s":"l","d":"2014-11-24","v":-5.53},{"s":"l","d":"2014-12-07","v":-5.46},{"s":"l","d":"2014-12-19","v":-5.45},{"s":"l","d":"2015-01-02","v":-5.45},{"s":"l","d":"2015-01-14","v":-5.48},{"s":"l","d":"2015-01-23","v":-5.48},{"s":"l","d":"2015-02-03","v":-5.40},{"s":"l","d":"2015-02-13","v":-5.27},{"s":"l","d":"2015-02-24","v":-5.13},{"s":"l","d":"2015-03-03","v":-5.05},{"s":"l","d":"2015-03-09","v":-5.01},{"s":"l","d":"2015-03-17","v":-5.05},{"s":"l","d":"2015-03-26","v":-5.10},{"s":"l","d":"2015-04-03","v":-5.06},{"s":"l","d":"2015-04-12","v":-5.08},{"s":"l","d":"2015-04-20","v":-5.05},{"s":"l","d":"2015-04-28","v":-5.08},{"s":"l","d":"2015-05-07","v":-5.13},{"s":"l","d":"2015-05-15","v":-5.18},{"s":"l","d":"2015-05-26","v":-5.24},{"s":"l","d":"2015-06-05","v":-5.19},{"s":"l","d":"2015-06-15","v":-5.10},{"s":"l","d":"2015-06-26","v":-5.05},{"s":"l","d":"2015-07-06","v":-5.06},{"s":"l","d":"2015-07-17","v":-5.01},{"s":"l","d":"2015-07-27","v":-4.98},{"s":"l","d":"2015-08-05","v":-5.08},{"s":"l","d":"2015-08-14","v":-5.13},{"s":"l","d":"2015-08-24","v":-5.10},{"s":"l","d":"2015-09-05","v":-5.13},{"s":"l","d":"2015-09-13","v":-5.24},{"s":"l","d":"2015-09-22","v":-5.20},{"s":"l","d":"2015-09-30","v":-5.15},{"s":"l","d":"2015-10-11","v":-5.01},{"s":"l","d":"2015-10-20","v":-5.10},{"s":"l","d":"2015-10-28","v":-5.17},{"s":"l","d":"2015-11-06","v":-5.19},{"s":"l","d":"2015-11-16","v":-5.08},{"s":"l","d":"2015-11-26","v":-4.96},{"s":"l","d":"2015-12-08","v":-4.98},{"s":"l","d":"2015-12-18","v":-4.99},{"s":"l","d":"2015-12-29","v":-5.01},{"s":"l","d":"2016-01-09","v":-5.03},{"s":"l","d":"2016-01-19","v":-5.06},{"s":"l","d":"2016-01-29","v":-5.01},{"s":"l","d":"2016-02-08","v":-4.96},{"s":"l","d":"2016-02-19","v":-4.94},{"s":"l","d":"2016-02-25","v":-4.98},{"s":"l","d":"2016-03-01","v":-4.97}
],
"e": [
{"s":"m","d":"2014-01-01","v":-0.58},{"s":"m","d":"2014-01-24","v":-0.57},{"s":"m","d":"2014-02-14","v":-0.57},{"s":"m","d":"2014-03-07","v":-0.565},{"s":"m","d":"2014-03-28","v":-0.575},{"s":"m","d":"2014-04-18","v":-0.585},{"s":"m","d":"2014-05-09","v":-0.59},{"s":"m","d":"2014-05-26","v":-0.585},{"s":"m","d":"2014-06-17","v":-0.59},{"s":"m","d":"2014-07-07","v":-0.595},{"s":"m","d":"2014-07-24","v":-0.60},{"s":"m","d":"2014-08-02","v":-0.615},{"s":"m","d":"2014-08-14","v":-0.63},{"s":"m","d":"2014-08-28","v":-0.625},{"s":"m","d":"2014-09-09","v":-0.62},{"s":"m","d":"2014-09-28","v":-0.63},{"s":"m","d":"2014-10-10","v":-0.635},{"s":"m","d":"2014-10-23","v":-0.62},{"s":"m","d":"2014-11-10","v":-0.61},{"s":"m","d":"2014-11-27","v":-0.60},{"s":"m","d":"2014-12-14","v":-0.605},{"s":"m","d":"2014-12-30","v":-0.61},{"s":"m","d":"2015-01-17","v":-0.605},{"s":"m","d":"2015-02-07","v":-0.59},{"s":"m","d":"2015-02-24","v":-0.58},{"s":"m","d":"2015-03-17","v":-0.575},{"s":"m","d":"2015-04-08","v":-0.585},{"s":"m","d":"2015-04-28","v":-0.58},{"s":"m","d":"2015-05-14","v":-0.575},{"s":"m","d":"2015-06-01","v":-0.57},{"s":"m","d":"2015-06-18","v":-0.575},{"s":"m","d":"2015-07-01","v":-0.595},{"s":"m","d":"2015-07-08","v":-0.58},{"s":"m","d":"2015-07-13","v":-0.59},{"s":"m","d":"2015-07-20","v":-0.575},{"s":"m","d":"2015-07-26","v":-0.57},{"s":"m","d":"2015-08-01","v":-0.585},{"s":"m","d":"2015-08-08","v":-0.59},{"s":"m","d":"2015-08-13","v":-0.57},{"s":"m","d":"2015-08-18","v":-0.56},{"s":"m","d":"2015-08-24","v":-0.55},{"s":"m","d":"2015-08-29","v":-0.54},{"s":"m","d":"2015-09-03","v":-0.52},{"s":"m","d":"2015-09-06","v":-0.51},{"s":"m","d":"2015-09-10","v":-0.525},{"s":"m","d":"2015-09-15","v":-0.53},{"s":"m","d":"2015-09-19","v":-0.52},{"s":"m","d":"2015-09-24","v":-0.51},{"s":"m","d":"2015-09-28","v":-0.525},{"s":"m","d":"2015-10-02","v":-0.54},{"s":"m","d":"2015-10-08","v":-0.525},{"s":"m","d":"2015-10-15","v":-0.53},{"s":"m","d":"2015-10-20","v":-0.52},{"s":"m","d":"2015-10-28","v":-0.55},{"s":"m","d":"2015-11-03","v":-0.54},{"s":"m","d":"2015-11-10","v":-0.55},{"s":"m","d":"2015-11-16","v":-0.56},{"s":"m","d":"2015-11-23","v":-0.555},{"s":"m","d":"2015-11-30","v":-0.57},{"s":"m","d":"2015-12-06","v":-0.58},{"s":"m","d":"2015-12-12","v":-0.575},{"s":"m","d":"2015-12-18","v":-0.59},{"s":"m","d":"2015-12-24","v":-0.585},{"s":"m","d":"2016-01-01","v":-0.59},{"s":"m","d":"2016-01-07","v":-0.585},{"s":"m","d":"2016-01-13","v":-0.595},{"s":"m","d":"2016-01-20","v":-0.60},{"s":"m","d":"2016-01-26","v":-0.58},{"s":"m","d":"2016-02-02","v":-0.585},{"s":"m","d":"2016-02-08","v":-0.60},{"s":"m","d":"2016-02-14","v":-0.605},{"s":"m","d":"2016-02-21","v":-0.60},{"s":"m","d":"2016-02-29","v":-0.59},
{"s":"u","d":"2014-01-01","v":-0.045},{"s":"u","d":"2014-01-08","v":-0.095},{"s":"u","d":"2014-01-15","v":-0.067},{"s":"u","d":"2014-01-22","v":-0.100},{"s":"u","d":"2014-02-01","v":-0.074},{"s":"u","d":"2014-02-08","v":-0.100},{"s":"u","d":"2014-02-15","v":-0.066},{"s":"u","d":"2014-02-22","v":-0.084},{"s":"u","d":"2014-03-01","v":-0.060},{"s":"u","d":"2014-03-08","v":-0.092},{"s":"u","d":"2014-03-15","v":-0.072},{"s":"u","d":"2014-03-22","v":-0.098},{"s":"u","d":"2014-04-01","v":-0.073},{"s":"u","d":"2014-04-08","v":-0.095},{"s":"u","d":"2014-04-15","v":-0.067},{"s":"u","d":"2014-04-22","v":-0.100},{"s":"u","d":"2014-05-01","v":-0.084},{"s":"u","d":"2014-05-08","v":-0.110},{"s":"u","d":"2014-05-15","v":-0.076},{"s":"u","d":"2014-05-22","v":-0.094},{"s":"u","d":"2014-06-01","v":-0.070},{"s":"u","d":"2014-06-08","v":-0.102},{"s":"u","d":"2014-06-15","v":-0.082},{"s":"u","d":"2014-06-22","v":-0.108},{"s":"u","d":"2014-07-01","v":-0.088},{"s":"u","d":"2014-07-08","v":-0.110},{"s":"u","d":"2014-07-15","v":-0.082},{"s":"u","d":"2014-07-22","v":-0.115},{"s":"u","d":"2014-08-01","v":-0.109},{"s":"u","d":"2014-08-08","v":-0.135},{"s":"u","d":"2014-08-15","v":-0.101},{"s":"u","d":"2014-08-22","v":-0.119},{"s":"u","d":"2014-09-01","v":-0.100},{"s":"u","d":"2014-09-08","v":-0.132},{"s":"u","d":"2014-09-15","v":-0.112},{"s":"u","d":"2014-09-22","v":-0.138},{"s":"u","d":"2014-10-01","v":-0.103},{"s":"u","d":"2014-10-08","v":-0.125},{"s":"u","d":"2014-10-15","v":-0.097},{"s":"u","d":"2014-10-22","v":-0.130},{"s":"u","d":"2014-11-01","v":-0.104},{"s":"u","d":"2014-11-08","v":-0.130},{"s":"u","d":"2014-11-15","v":-0.096},{"s":"u","d":"2014-11-22","v":-0.114},{"s":"u","d":"2014-12-01","v":-0.080},{"s":"u","d":"2014-12-08","v":-0.112},{"s":"u","d":"2014-12-15","v":-0.092},{"s":"u","d":"2014-12-22","v":-0.118},{"s":"u","d":"2015-01-01","v":-0.083},{"s":"u","d":"2015-01-08","v":-0.105},{"s":"u","d":"2015-01-15","v":-0.077},{"s":"u","d":"2015-01-22","v":-0.110},{"s":"u","d":"2015-02-01","v":-0.084},{"s":"u","d":"2015-02-08","v":-0.110},{"s":"u","d":"2015-02-15","v":-0.076},{"s":"u","d":"2015-02-22","v":-0.094},{"s":"u","d":"2015-03-01","v":-0.065},{"s":"u","d":"2015-03-08","v":-0.097},{"s":"u","d":"2015-03-15","v":-0.077},{"s":"u","d":"2015-03-22","v":-0.103},{"s":"u","d":"2015-04-01","v":-0.063},{"s":"u","d":"2015-04-08","v":-0.085},{"s":"u","d":"2015-04-15","v":-0.057},{"s":"u","d":"2015-04-22","v":-0.090},{"s":"u","d":"2015-05-01","v":-0.064},{"s":"u","d":"2015-05-08","v":-0.090},{"s":"u","d":"2015-05-15","v":-0.056},{"s":"u","d":"2015-05-22","v":-0.074},{"s":"u","d":"2015-06-01","v":-0.060},{"s":"u","d":"2015-06-08","v":-0.092},{"s":"u","d":"2015-06-15","v":-0.072},{"s":"u","d":"2015-06-22","v":-0.098},{"s":"u","d":"2015-07-01","v":-0.083},{"s":"u","d":"2015-07-08","v":-0.105},{"s":"u","d":"2015-07-15","v":-0.077},{"s":"u","d":"2015-07-22","v":-0.110},{"s":"u","d":"2015-08-01","v":-0.089},{"s":"u","d":"2015-08-08","v":-0.115},{"s":"u","d":"2015-08-15","v":-0.081},{"s":"u","d":"2015-08-22","v":-0.099},{"s":"u","d":"2015-09-01","v":-0.020},{"s":"u","d":"2015-09-08","v":-0.052},{"s":"u","d":"2015-09-15","v":-0.032},{"s":"u","d":"2015-09-22","v":-0.058},{"s":"u","d":"2015-10-01","v":-0.038},{"s":"u","d":"2015-10-08","v":-0.060},{"s":"u","d":"2015-10-15","v":-0.032},{"s":"u","d":"2015-10-22","v":-0.065},{"s":"u","d":"2015-11-01","v":-0.059},{"s":"u","d":"2015-11-08","v":-0.085},{"s":"u","d":"2015-11-15","v":-0.051},{"s":"u","d":"2015-11-22","v":-0.069},{"s":"u","d":"2015-12-01","v":-0.060},{"s":"u","d":"2015-12-08","v":-0.092},{"s":"u","d":"2015-12-15","v":-0.072},{"s":"u","d":"2015-12-22","v":-0.098},{"s":"u","d":"2016-01-01","v":-0.073},{"s":"u","d":"2016-01-08","v":-0.095},{"s":"u","d":"2016-01-15","v":-0.067},{"s":"u","d":"2016-01-22","v":-0.100},{"s":"u","d":"2016-02-01","v":-0.089},{"s":"u","d":"2016-02-08","v":-0.115},{"s":"u","d":"2016-02-15","v":-0.081},{"s":"u","d":"2016-02-22","v":-0.099},{"s":"u","d":"2016-02-29","v":-0.105},
{"s":"u","d":"2014-01-04","v":-0.099},{"s":"u","d":"2014-01-11","v":-0.069},{"s":"u","d":"2014-01-18","v":-0.093},{"s":"u","d":"2014-01-26","v":-0.073},{"s":"u","d":"2014-02-04","v":-0.098},{"s":"u","d":"2014-02-11","v":-0.070},{"s":"u","d":"2014-02-18","v":-0.092},{"s":"u","d":"2014-02-26","v":-0.061},{"s":"u","d":"2014-03-04","v":-0.086},{"s":"u","d":"2014-03-11","v":-0.065},{"s":"u","d":"2014-03-18","v":-0.096},{"s":"u","d":"2014-03-26","v":-0.073},{"s":"u","d":"2014-04-04","v":-0.099},{"s":"u","d":"2014-04-11","v":-0.069},{"s":"u","d":"2014-04-18","v":-0.093},{"s":"u","d":"2014-04-26","v":-0.073},{"s":"u","d":"2014-05-04","v":-0.108},{"s":"u","d":"2014-05-11","v":-0.080},{"s":"u","d":"2014-05-18","v":-0.102},{"s":"u","d":"2014-05-26","v":-0.071},{"s":"u","d":"2014-06-04","v":-0.096},{"s":"u","d":"2014-06-11","v":-0.075},{"s":"u","d":"2014-06-18","v":-0.106},{"s":"u","d":"2014-06-26","v":-0.083},{"s":"u","d":"2014-07-04","v":-0.114},{"s":"u","d":"2014-07-11","v":-0.084},{"s":"u","d":"2014-07-18","v":-0.108},{"s":"u","d":"2014-07-26","v":-0.088},{"s":"u","d":"2014-08-04","v":-0.133},{"s":"u","d":"2014-08-11","v":-0.105},{"s":"u","d":"2014-08-18","v":-0.127},{"s":"u","d":"2014-08-26","v":-0.096},{"s":"u","d":"2014-09-04","v":-0.126},{"s":"u","d":"2014-09-11","v":-0.105},{"s":"u","d":"2014-09-18","v":-0.136},{"s":"u","d":"2014-09-26","v":-0.113},{"s":"u","d":"2014-10-04","v":-0.129},{"s":"u","d":"2014-10-11","v":-0.099},{"s":"u","d":"2014-10-18","v":-0.123},{"s":"u","d":"2014-10-26","v":-0.103},{"s":"u","d":"2014-11-04","v":-0.128},{"s":"u","d":"2014-11-11","v":-0.100},{"s":"u","d":"2014-11-18","v":-0.122},{"s":"u","d":"2014-11-26","v":-0.091},{"s":"u","d":"2014-12-04","v":-0.106},{"s":"u","d":"2014-12-11","v":-0.085},{"s":"u","d":"2014-12-18","v":-0.116},{"s":"u","d":"2014-12-26","v":-0.093},{"s":"u","d":"2015-01-04","v":-0.109},{"s":"u","d":"2015-01-11","v":-0.079},{"s":"u","d":"2015-01-18","v":-0.103},{"s":"u","d":"2015-01-26","v":-0.083},{"s":"u","d":"2015-02-04","v":-0.108},{"s":"u","d":"2015-02-11","v":-0.080},{"s":"u","d":"2015-02-18","v":-0.102},{"s":"u","d":"2015-02-26","v":-0.071},{"s":"u","d":"2015-03-04","v":-0.091},{"s":"u","d":"2015-03-11","v":-0.070},{"s":"u","d":"2015-03-18","v":-0.101},{"s":"u","d":"2015-03-26","v":-0.078},{"s":"u","d":"2015-04-04","v":-0.089},{"s":"u","d":"2015-04-11","v":-0.059},{"s":"u","d":"2015-04-18","v":-0.083},{"s":"u","d":"2015-04-26","v":-0.063},{"s":"u","d":"2015-05-04","v":-0.088},{"s":"u","d":"2015-05-11","v":-0.060},{"s":"u","d":"2015-05-18","v":-0.082},{"s":"u","d":"2015-05-26","v":-0.051},{"s":"u","d":"2015-06-04","v":-0.086},{"s":"u","d":"2015-06-11","v":-0.065},{"s":"u","d":"2015-06-18","v":-0.096},{"s":"u","d":"2015-06-26","v":-0.073},{"s":"u","d":"2015-07-04","v":-0.109},{"s":"u","d":"2015-07-11","v":-0.079},{"s":"u","d":"2015-07-18","v":-0.103},{"s":"u","d":"2015-07-26","v":-0.083},{"s":"u","d":"2015-08-04","v":-0.113},{"s":"u","d":"2015-08-11","v":-0.085},{"s":"u","d":"2015-08-18","v":-0.107},{"s":"u","d":"2015-08-26","v":-0.076},{"s":"u","d":"2015-09-04","v":-0.046},{"s":"u","d":"2015-09-11","v":-0.025},{"s":"u","d":"2015-09-18","v":-0.056},{"s":"u","d":"2015-09-26","v":-0.033},{"s":"u","d":"2015-10-04","v":-0.064},{"s":"u","d":"2015-10-11","v":-0.034},{"s":"u","d":"2015-10-18","v":-0.058},{"s":"u","d":"2015-10-26","v":-0.038},{"s":"u","d":"2015-11-04","v":-0.083},{"s":"u","d":"2015-11-11","v":-0.055},{"s":"u","d":"2015-11-18","v":-0.077},{"s":"u","d":"2015-11-26","v":-0.046},{"s":"u","d":"2015-12-04","v":-0.086},{"s":"u","d":"2015-12-11","v":-0.065},{"s":"u","d":"2015-12-18","v":-0.096},{"s":"u","d":"2015-12-26","v":-0.073},{"s":"u","d":"2016-01-04","v":-0.099},{"s":"u","d":"2016-01-11","v":-0.069},{"s":"u","d":"2016-01-18","v":-0.093},{"s":"u","d":"2016-01-26","v":-0.073},{"s":"u","d":"2016-02-04","v":-0.113},{"s":"u","d":"2016-02-11","v":-0.085},{"s":"u","d":"2016-02-18","v":-0.107},{"s":"u","d":"2016-02-26","v":-0.076},
{"s":"l","d":"2014-01-01","v":-1.165},{"s":"l","d":"2014-01-08","v":-1.130},{"s":"l","d":"2014-01-15","v":-1.175},{"s":"l","d":"2014-01-22","v":-1.140},{"s":"l","d":"2014-02-01","v":-1.170},{"s":"l","d":"2014-02-08","v":-1.122},{"s":"l","d":"2014-02-15","v":-1.148},{"s":"l","d":"2014-02-22","v":-1.115},{"s":"l","d":"2014-03-01","v":-1.170},{"s":"l","d":"2014-03-08","v":-1.145},{"s":"l","d":"2014-03-15","v":-1.178},{"s":"l","d":"2014-03-22","v":-1.135},{"s":"l","d":"2014-04-01","v":-1.175},{"s":"l","d":"2014-04-08","v":-1.140},{"s":"l","d":"2014-04-15","v":-1.185},{"s":"l","d":"2014-04-22","v":-1.150},{"s":"l","d":"2014-05-01","v":-1.190},{"s":"l","d":"2014-05-08","v":-1.142},{"s":"l","d":"2014-05-15","v":-1.168},{"s":"l","d":"2014-05-22","v":-1.135},{"s":"l","d":"2014-06-01","v":-1.180},{"s":"l","d":"2014-06-08","v":-1.155},{"s":"l","d":"2014-06-15","v":-1.188},{"s":"l","d":"2014-06-22","v":-1.145},{"s":"l","d":"2014-07-01","v":-1.175},{"s":"l","d":"2014-07-08","v":-1.140},{"s":"l","d":"2014-07-15","v":-1.185},{"s":"l","d":"2014-07-22","v":-1.150},{"s":"l","d":"2014-08-01","v":-1.250},{"s":"l","d":"2014-08-08","v":-1.202},{"s":"l","d":"2014-08-15","v":-1.228},{"s":"l","d":"2014-08-22","v":-1.195},{"s":"l","d":"2014-09-01","v":-1.250},{"s":"l","d":"2014-09-08","v":-1.225},{"s":"l","d":"2014-09-15","v":-1.258},{"s":"l","d":"2014-09-22","v":-1.215},{"s":"l","d":"2014-10-01","v":-1.265},{"s":"l","d":"2014-10-08","v":-1.230},{"s":"l","d":"2014-10-15","v":-1.275},{"s":"l","d":"2014-10-22","v":-1.240},{"s":"l","d":"2014-11-01","v":-1.240},{"s":"l","d":"2014-11-08","v":-1.192},{"s":"l","d":"2014-11-15","v":-1.218},{"s":"l","d":"2014-11-22","v":-1.185},{"s":"l","d":"2014-12-01","v":-1.220},{"s":"l","d":"2014-12-08","v":-1.195},{"s":"l","d":"2014-12-15","v":-1.228},{"s":"l","d":"2014-12-22","v":-1.185},{"s":"l","d":"2015-01-01","v":-1.215},{"s":"l","d":"2015-01-08","v":-1.180},{"s":"l","d":"2015-01-15","v":-1.225},{"s":"l","d":"2015-01-22","v":-1.190},{"s":"l","d":"2015-02-01","v":-1.220},{"s":"l","d":"2015-02-08","v":-1.172},{"s":"l","d":"2015-02-15","v":-1.198},{"s":"l","d":"2015-02-22","v":-1.165},{"s":"l","d":"2015-03-01","v":-1.200},{"s":"l","d":"2015-03-08","v":-1.175},{"s":"l","d":"2015-03-15","v":-1.208},{"s":"l","d":"2015-03-22","v":-1.165},{"s":"l","d":"2015-04-01","v":-1.185},{"s":"l","d":"2015-04-08","v":-1.150},{"s":"l","d":"2015-04-15","v":-1.195},{"s":"l","d":"2015-04-22","v":-1.160},{"s":"l","d":"2015-05-01","v":-1.180},{"s":"l","d":"2015-05-08","v":-1.132},{"s":"l","d":"2015-05-15","v":-1.158},{"s":"l","d":"2015-05-22","v":-1.125},{"s":"l","d":"2015-06-01","v":-1.150},{"s":"l","d":"2015-06-08","v":-1.125},{"s":"l","d":"2015-06-15","v":-1.158},{"s":"l","d":"2015-06-22","v":-1.115},{"s":"l","d":"2015-07-01","v":-1.135},{"s":"l","d":"2015-07-08","v":-1.100},{"s":"l","d":"2015-07-15","v":-1.145},{"s":"l","d":"2015-07-22","v":-1.110},{"s":"l","d":"2015-08-01","v":-1.150},{"s":"l","d":"2015-08-08","v":-1.102},{"s":"l","d":"2015-08-15","v":-1.128},{"s":"l","d":"2015-08-22","v":-1.095},{"s":"l","d":"2015-09-01","v":-1.120},{"s":"l","d":"2015-09-08","v":-1.095},{"s":"l","d":"2015-09-15","v":-1.128},{"s":"l","d":"2015-09-22","v":-1.085},{"s":"l","d":"2015-10-01","v":-1.170},{"s":"l","d":"2015-10-08","v":-1.050},{"s":"l","d":"2015-10-15","v":-1.125},{"s":"l","d":"2015-10-22","v":-1.090},{"s":"l","d":"2015-11-01","v":-1.150},{"s":"l","d":"2015-11-08","v":-1.102},{"s":"l","d":"2015-11-15","v":-1.128},{"s":"l","d":"2015-11-22","v":-1.095},{"s":"l","d":"2015-12-01","v":-1.150},{"s":"l","d":"2015-12-08","v":-1.125},{"s":"l","d":"2015-12-15","v":-1.158},{"s":"l","d":"2015-12-22","v":-1.115},{"s":"l","d":"2016-01-01","v":-1.155},{"s":"l","d":"2016-01-08","v":-1.120},{"s":"l","d":"2016-01-15","v":-1.165},{"s":"l","d":"2016-01-22","v":-1.130},{"s":"l","d":"2016-02-01","v":-1.170},{"s":"l","d":"2016-02-08","v":-1.122},{"s":"l","d":"2016-02-15","v":-1.148},{"s":"l","d":"2016-02-22","v":-1.115},{"s":"l","d":"2016-02-29","v":-1.160},
{"s":"l","d":"2014-01-04","v":-1.170},{"s":"l","d":"2014-01-11","v":-1.128},{"s":"l","d":"2014-01-18","v":-1.161},{"s":"l","d":"2014-01-26","v":-1.133},{"s":"l","d":"2014-02-04","v":-1.165},{"s":"l","d":"2014-02-11","v":-1.126},{"s":"l","d":"2014-02-18","v":-1.157},{"s":"l","d":"2014-02-26","v":-1.113},{"s":"l","d":"2014-03-04","v":-1.158},{"s":"l","d":"2014-03-11","v":-1.129},{"s":"l","d":"2014-03-18","v":-1.172},{"s":"l","d":"2014-03-26","v":-1.140},{"s":"l","d":"2014-04-04","v":-1.180},{"s":"l","d":"2014-04-11","v":-1.138},{"s":"l","d":"2014-04-18","v":-1.171},{"s":"l","d":"2014-04-26","v":-1.143},{"s":"l","d":"2014-05-04","v":-1.185},{"s":"l","d":"2014-05-11","v":-1.146},{"s":"l","d":"2014-05-18","v":-1.177},{"s":"l","d":"2014-05-26","v":-1.133},{"s":"l","d":"2014-06-04","v":-1.168},{"s":"l","d":"2014-06-11","v":-1.139},{"s":"l","d":"2014-06-18","v":-1.182},{"s":"l","d":"2014-06-26","v":-1.150},{"s":"l","d":"2014-07-04","v":-1.180},{"s":"l","d":"2014-07-11","v":-1.138},{"s":"l","d":"2014-07-18","v":-1.171},{"s":"l","d":"2014-07-26","v":-1.143},{"s":"l","d":"2014-08-04","v":-1.245},{"s":"l","d":"2014-08-11","v":-1.206},{"s":"l","d":"2014-08-18","v":-1.237},{"s":"l","d":"2014-08-26","v":-1.193},{"s":"l","d":"2014-09-04","v":-1.238},{"s":"l","d":"2014-09-11","v":-1.209},{"s":"l","d":"2014-09-18","v":-1.252},{"s":"l","d":"2014-09-26","v":-1.220},{"s":"l","d":"2014-10-04","v":-1.270},{"s":"l","d":"2014-10-11","v":-1.228},{"s":"l","d":"2014-10-18","v":-1.261},{"s":"l","d":"2014-10-26","v":-1.233},{"s":"l","d":"2014-11-04","v":-1.235},{"s":"l","d":"2014-11-11","v":-1.196},{"s":"l","d":"2014-11-18","v":-1.227},{"s":"l","d":"2014-11-26","v":-1.183},{"s":"l","d":"2014-12-04","v":-1.208},{"s":"l","d":"2014-12-11","v":-1.179},{"s":"l","d":"2014-12-18","v":-1.222},{"s":"l","d":"2014-12-26","v":-1.190},{"s":"l","d":"2015-01-04","v":-1.220},{"s":"l","d":"2015-01-11","v":-1.178},{"s":"l","d":"2015-01-18","v":-1.211},{"s":"l","d":"2015-01-26","v":-1.183},{"s":"l","d":"2015-02-04","v":-1.215},{"s":"l","d":"2015-02-11","v":-1.176},{"s":"l","d":"2015-02-18","v":-1.207},{"s":"l","d":"2015-02-26","v":-1.163},{"s":"l","d":"2015-03-04","v":-1.188},{"s":"l","d":"2015-03-11","v":-1.159},{"s":"l","d":"2015-03-18","v":-1.202},{"s":"l","d":"2015-03-26","v":-1.170},{"s":"l","d":"2015-04-04","v":-1.190},{"s":"l","d":"2015-04-11","v":-1.148},{"s":"l","d":"2015-04-18","v":-1.181},{"s":"l","d":"2015-04-26","v":-1.153},{"s":"l","d":"2015-05-04","v":-1.175},{"s":"l","d":"2015-05-11","v":-1.136},{"s":"l","d":"2015-05-18","v":-1.167},{"s":"l","d":"2015-05-26","v":-1.123},{"s":"l","d":"2015-06-04","v":-1.138},{"s":"l","d":"2015-06-11","v":-1.109},{"s":"l","d":"2015-06-18","v":-1.152},{"s":"l","d":"2015-06-26","v":-1.120},{"s":"l","d":"2015-07-04","v":-1.140},{"s":"l","d":"2015-07-11","v":-1.098},{"s":"l","d":"2015-07-18","v":-1.131},{"s":"l","d":"2015-07-26","v":-1.103},{"s":"l","d":"2015-08-04","v":-1.145},{"s":"l","d":"2015-08-11","v":-1.106},{"s":"l","d":"2015-08-18","v":-1.137},{"s":"l","d":"2015-08-26","v":-1.093},{"s":"l","d":"2015-09-04","v":-1.108},{"s":"l","d":"2015-09-11","v":-1.079},{"s":"l","d":"2015-09-18","v":-1.122},{"s":"l","d":"2015-09-26","v":-1.090},{"s":"l","d":"2015-10-04","v":-1.190},{"s":"l","d":"2015-10-11","v":-1.040},{"s":"l","d":"2015-10-18","v":-1.111},{"s":"l","d":"2015-10-26","v":-1.083},{"s":"l","d":"2015-11-04","v":-1.145},{"s":"l","d":"2015-11-11","v":-1.106},{"s":"l","d":"2015-11-18","v":-1.137},{"s":"l","d":"2015-11-26","v":-1.093},{"s":"l","d":"2015-12-04","v":-1.138},{"s":"l","d":"2015-12-11","v":-1.109},{"s":"l","d":"2015-12-18","v":-1.152},{"s":"l","d":"2015-12-26","v":-1.120},{"s":"l","d":"2016-01-04","v":-1.160},{"s":"l","d":"2016-01-11","v":-1.118},{"s":"l","d":"2016-01-18","v":-1.151},{"s":"l","d":"2016-01-26","v":-1.123},{"s":"l","d":"2016-02-04","v":-1.165},{"s":"l","d":"2016-02-11","v":-1.126},{"s":"l","d":"2016-02-18","v":-1.157},{"s":"l","d":"2016-02-26","v":-1.113}
],
"f": [
{"s":"m","d":"2014-07-29","v":-0.13},{"s":"m","d":"2014-08-09","v":-0.11},{"s":"m","d":"2014-08-22","v":-0.09},{"s":"m","d":"2014-09-04","v":-0.07},{"s":"m","d":"2014-09-12","v":-0.03},{"s":"m","d":"2014-09-21","v":0.03},{"s":"m","d":"2014-09-29","v":0.04},{"s":"m","d":"2014-10-08","v":0.06},{"s":"m","d":"2014-10-16","v":0.05},{"s":"m","d":"2014-10-25","v":0.00},{"s":"m","d":"2014-11-03","v":-0.08},{"s":"m","d":"2014-11-11","v":-0.13},{"s":"m","d":"2014-11-19","v":-0.14},{"s":"m","d":"2014-11-29","v":-0.16},{"s":"m","d":"2014-12-10","v":-0.15},{"s":"m","d":"2014-12-21","v":-0.13},{"s":"m","d":"2015-01-01","v":-0.09},{"s":"m","d":"2015-01-14","v":-0.06},{"s":"m","d":"2015-01-20","v":-0.06},{"s":"m","d":"2015-01-27","v":-0.13},{"s":"m","d":"2015-02-04","v":-0.18},{"s":"m","d":"2015-02-14","v":-0.21},{"s":"m","d":"2015-02-25","v":-0.22},{"s":"m","d":"2015-03-07","v":-0.24},{"s":"m","d":"2015-03-15","v":-0.27},{"s":"m","d":"2015-03-24","v":-0.38},{"s":"m","d":"2015-04-02","v":-0.46},{"s":"m","d":"2015-04-12","v":-0.52},{"s":"m","d":"2015-04-22","v":-0.55},{"s":"m","d":"2015-04-29","v":-0.57},{"s":"m","d":"2015-05-06","v":-0.54},{"s":"m","d":"2015-05-12","v":-0.54},{"s":"m","d":"2015-05-18","v":-0.51},{"s":"m","d":"2015-05-24","v":-0.55},{"s":"m","d":"2015-06-04","v":-0.57},{"s":"m","d":"2015-06-14","v":-0.55},{"s":"m","d":"2015-06-25","v":-0.55},{"s":"m","d":"2015-07-04","v":-0.52},{"s":"m","d":"2015-07-14","v":-0.44},{"s":"m","d":"2015-07-24","v":-0.36},{"s":"m","d":"2015-08-05","v":-0.34},{"s":"m","d":"2015-08-11","v":-0.36},{"s":"m","d":"2015-08-19","v":-0.47},{"s":"m","d":"2015-08-27","v":-0.52},{"s":"m","d":"2015-09-05","v":-0.57},{"s":"m","d":"2015-09-12","v":-0.52},{"s":"m","d":"2015-09-20","v":-0.51},{"s":"m","d":"2015-09-29","v":-0.44},{"s":"m","d":"2015-10-08","v":-0.35},{"s":"m","d":"2015-10-16","v":-0.30},{"s":"m","d":"2015-10-24","v":-0.38},{"s":"m","d":"2015-11-03","v":-0.47},{"s":"m","d":"2015-11-11","v":-0.43},{"s":"m","d":"2015-11-19","v":-0.35},{"s":"m","d":"2015-11-28","v":-0.32},{"s":"m","d":"2015-12-07","v":-0.33},{"s":"m","d":"2015-12-15","v":-0.35},{"s":"m","d":"2015-12-23","v":-0.38},{"s":"m","d":"2016-01-02","v":-0.43},{"s":"m","d":"2016-01-15","v":-0.44},{"s":"m","d":"2016-01-28","v":-0.44},{"s":"m","d":"2016-02-10","v":-0.43},{"s":"m","d":"2016-02-23","v":-0.41},{"s":"m","d":"2016-03-02","v":-0.41},
{"s":"u","d":"2014-07-29","v":0.73},{"s":"u","d":"2014-08-06","v":0.70},{"s":"u","d":"2014-08-14","v":0.67},{"s":"u","d":"2014-08-22","v":0.66},{"s":"u","d":"2014-08-31","v":0.65},{"s":"u","d":"2014-09-09","v":0.68},{"s":"u","d":"2014-09-17","v":0.66},{"s":"u","d":"2014-09-25","v":0.65},{"s":"u","d":"2014-10-03","v":0.70},{"s":"u","d":"2014-10-12","v":0.70},{"s":"u","d":"2014-10-20","v":0.70},{"s":"u","d":"2014-10-28","v":0.71},{"s":"u","d":"2014-11-06","v":0.67},{"s":"u","d":"2014-11-14","v":0.59},{"s":"u","d":"2014-11-23","v":0.54},{"s":"u","d":"2014-12-01","v":0.52},{"s":"u","d":"2014-12-10","v":0.49},{"s":"u","d":"2014-12-18","v":0.52},{"s":"u","d":"2014-12-26","v":0.52},{"s":"u","d":"2015-01-04","v":0.54},{"s":"u","d":"2015-01-14","v":0.52},{"s":"u","d":"2015-01-22","v":0.54},{"s":"u","d":"2015-01-31","v":0.52},{"s":"u","d":"2015-02-07","v":0.43},{"s":"u","d":"2015-02-14","v":0.39},{"s":"u","d":"2015-02-25","v":0.37},{"s":"u","d":"2015-03-07","v":0.35},{"s":"u","d":"2015-03-15","v":0.33},{"s":"u","d":"2015-03-24","v":0.22},{"s":"u","d":"2015-04-02","v":0.14},{"s":"u","d":"2015-04-12","v":0.08},{"s":"u","d":"2015-04-22","v":0.03},{"s":"u","d":"2015-04-30","v":0.00},{"s":"u","d":"2015-05-12","v":0.02},{"s":"u","d":"2015-05-22","v":0.02},{"s":"u","d":"2015-06-02","v":0.02},{"s":"u","d":"2015-06-14","v":0.01},{"s":"u","d":"2015-06-25","v":0.00},{"s":"u","d":"2015-07-04","v":0.05},{"s":"u","d":"2015-07-14","v":0.11},{"s":"u","d":"2015-07-24","v":0.12},{"s":"u","d":"2015-08-05","v":0.13},{"s":"u","d":"2015-08-13","v":0.09},{"s":"u","d":"2015-08-21","v":0.02},{"s":"u","d":"2015-08-30","v":-0.03},{"s":"u","d":"2015-09-07","v":0.02},{"s":"u","d":"2015-09-15","v":0.05},{"s":"u","d":"2015-09-24","v":0.09},{"s":"u","d":"2015-10-02","v":0.16},{"s":"u","d":"2015-10-10","v":0.24},{"s":"u","d":"2015-10-17","v":0.22},{"s":"u","d":"2015-10-25","v":0.09},{"s":"u","d":"2015-11-02","v":0.05},{"s":"u","d":"2015-11-11","v":0.13},{"s":"u","d":"2015-11-19","v":0.19},{"s":"u","d":"2015-11-27","v":0.21},{"s":"u","d":"2015-12-08","v":0.17},{"s":"u","d":"2015-12-20","v":0.16},{"s":"u","d":"2016-01-02","v":0.14},{"s":"u","d":"2016-01-15","v":0.13},{"s":"u","d":"2016-01-26","v":0.13},{"s":"u","d":"2016-02-04","v":0.17},{"s":"u","d":"2016-02-14","v":0.19},{"s":"u","d":"2016-02-23","v":0.24},{"s":"u","d":"2016-03-02","v":0.27},
{"s":"l","d":"2014-07-29","v":-0.87},{"s":"l","d":"2014-08-06","v":-0.84},{"s":"l","d":"2014-08-14","v":-0.79},{"s":"l","d":"2014-08-22","v":-0.78},{"s":"l","d":"2014-08-31","v":-0.74},{"s":"l","d":"2014-09-09","v":-0.70},{"s":"l","d":"2014-09-17","v":-0.66},{"s":"l","d":"2014-09-25","v":-0.62},{"s":"l","d":"2014-10-03","v":-0.59},{"s":"l","d":"2014-10-12","v":-0.59},{"s":"l","d":"2014-10-20","v":-0.57},{"s":"l","d":"2014-10-28","v":-0.57},{"s":"l","d":"2014-11-06","v":-0.62},{"s":"l","d":"2014-11-14","v":-0.68},{"s":"l","d":"2014-11-23","v":-0.74},{"s":"l","d":"2014-12-01","v":-0.79},{"s":"l","d":"2014-12-10","v":-0.81},{"s":"l","d":"2014-12-18","v":-0.79},{"s":"l","d":"2014-12-26","v":-0.76},{"s":"l","d":"2015-01-04","v":-0.73},{"s":"l","d":"2015-01-14","v":-0.68},{"s":"l","d":"2015-01-22","v":-0.63},{"s":"l","d":"2015-01-31","v":-0.66},{"s":"l","d":"2015-02-08","v":-0.73},{"s":"l","d":"2015-02-16","v":-0.76},{"s":"l","d":"2015-02-25","v":-0.73},{"s":"l","d":"2015-03-07","v":-0.76},{"s":"l","d":"2015-03-15","v":-0.78},{"s":"l","d":"2015-03-24","v":-0.92},{"s":"l","d":"2015-04-02","v":-1.01},{"s":"l","d":"2015-04-12","v":-1.09},{"s":"l","d":"2015-04-22","v":-1.12},{"s":"l","d":"2015-04-30","v":-1.14},{"s":"l","d":"2015-05-09","v":-1.11},{"s":"l","d":"2015-05-15","v":-1.08},{"s":"l","d":"2015-05-24","v":-1.12},{"s":"l","d":"2015-06-04","v":-1.16},{"s":"l","d":"2015-06-14","v":-1.12},{"s":"l","d":"2015-06-25","v":-1.11},{"s":"l","d":"2015-07-04","v":-1.08},{"s":"l","d":"2015-07-14","v":-1.00},{"s":"l","d":"2015-07-24","v":-0.93},{"s":"l","d":"2015-08-05","v":-0.92},{"s":"l","d":"2015-08-13","v":-0.95},{"s":"l","d":"2015-08-21","v":-1.04},{"s":"l","d":"2015-08-30","v":-1.09},{"s":"l","d":"2015-09-07","v":-1.12},{"s":"l","d":"2015-09-15","v":-1.08},{"s":"l","d":"2015-09-24","v":-1.04},{"s":"l","d":"2015-10-02","v":-0.98},{"s":"l","d":"2015-10-10","v":-0.89},{"s":"l","d":"2015-10-17","v":-0.81},{"s":"l","d":"2015-10-25","v":-0.92},{"s":"l","d":"2015-11-02","v":-1.01},{"s":"l","d":"2015-11-11","v":-0.95},{"s":"l","d":"2015-11-19","v":-0.89},{"s":"l","d":"2015-11-27","v":-0.85},{"s":"l","d":"2015-12-08","v":-0.89},{"s":"l","d":"2015-12-20","v":-0.92},{"s":"l","d":"2016-01-02","v":-0.95},{"s":"l","d":"2016-01-12","v":-0.98},{"s":"l","d":"2016-01-24","v":-0.99},{"s":"l","d":"2016-02-04","v":-1.01},{"s":"l","d":"2016-02-14","v":-1.04},{"s":"l","d":"2016-02-23","v":-1.06},{"s":"l","d":"2016-03-02","v":-1.09}
]
},
"spacing": 29,
"vconcat": [
{"hconcat": [
{"width": 334, "height": 219, "data": {"name": "a"}, "title": {"text": "(a) CTR - Brand only"},
 "encoding": {"x": {"field": "d", "type": "temporal", "title": null, "scale": {"type": "utc", "domain": [{"year": 2013, "month": 12, "date": 1, "utc": true}, {"year": 2016, "month": 4, "date": 1, "utc": true}]}, "axis": {"values": [{"year": 2014, "month": 1, "date": 1, "utc": true}, {"year": 2014, "month": 7, "date": 1, "utc": true}, {"year": 2015, "month": 1, "date": 1, "utc": true}, {"year": 2015, "month": 7, "date": 1, "utc": true}, {"year": 2016, "month": 1, "date": 1, "utc": true}], "labelExpr": "utcFormat(datum.value, \"%b '%y\")"}},
  "y": {"field": "v", "type": "quantitative", "title": null, "scale": {"domain": [-3.58, -1.635], "zero": false, "nice": false}, "axis": {"values": [-3.5, -3.0, -2.5, -2.0], "format": ".1f"}}},
 "layer": [
  {"transform": [{"filter": "datum.s == 'm'"}], "mark": {"type": "line", "color": "#000", "strokeWidth": 1.5}},
  {"transform": [{"filter": "datum.s != 'm'"}], "mark": {"type": "line", "color": "#000", "strokeWidth": 1.2, "strokeDash": [1.5, 2]}, "encoding": {"detail": {"field": "s"}}}
 ]},
{"width": 335, "height": 219, "data": {"name": "b"}, "title": {"text": "(b) CTR - Apple"},
 "encoding": {"x": {"field": "d", "type": "temporal", "title": null, "scale": {"type": "utc", "domain": [{"year": 2013, "month": 12, "date": 1, "utc": true}, {"year": 2016, "month": 4, "date": 1, "utc": true}]}, "axis": {"values": [{"year": 2014, "month": 1, "date": 1, "utc": true}, {"year": 2014, "month": 7, "date": 1, "utc": true}, {"year": 2015, "month": 1, "date": 1, "utc": true}, {"year": 2015, "month": 7, "date": 1, "utc": true}, {"year": 2016, "month": 1, "date": 1, "utc": true}], "labelExpr": "utcFormat(datum.value, \"%b '%y\")"}},
  "y": {"field": "v", "type": "quantitative", "title": null, "scale": {"domain": [-1.193, 1.105], "zero": false, "nice": false}, "axis": {"values": [-1.0, -0.5, 0.0, 0.5, 1.0], "format": ".1f"}}},
 "layer": [
  {"transform": [{"filter": "datum.s == 'm'"}], "mark": {"type": "line", "color": "#000", "strokeWidth": 1.5}},
  {"transform": [{"filter": "datum.s != 'm'"}], "mark": {"type": "line", "color": "#000", "strokeWidth": 1.2, "strokeDash": [1.5, 2]}, "encoding": {"detail": {"field": "s"}}}
 ]},
{"width": 343, "height": 222, "data": {"name": "c"}, "title": {"text": "(c) CTR - Microsoft"},
 "encoding": {"x": {"field": "d", "type": "temporal", "title": null, "scale": {"type": "utc", "domain": [{"year": 2013, "month": 12, "date": 1, "utc": true}, {"year": 2016, "month": 4, "date": 1, "utc": true}]}, "axis": {"values": [{"year": 2014, "month": 1, "date": 1, "utc": true}, {"year": 2014, "month": 7, "date": 1, "utc": true}, {"year": 2015, "month": 1, "date": 1, "utc": true}, {"year": 2015, "month": 7, "date": 1, "utc": true}, {"year": 2016, "month": 1, "date": 1, "utc": true}], "labelExpr": "utcFormat(datum.value, \"%b '%y\")"}},
  "y": {"field": "v", "type": "quantitative", "title": null, "scale": {"domain": [-0.813, 0.935], "zero": false, "nice": false}, "axis": {"values": [-0.5, 0.0, 0.5], "format": ".1f"}}},
 "layer": [
  {"transform": [{"filter": "datum.s == 'm'"}], "mark": {"type": "line", "color": "#000", "strokeWidth": 1.5}},
  {"transform": [{"filter": "datum.s != 'm'"}], "mark": {"type": "line", "color": "#000", "strokeWidth": 1.2, "strokeDash": [1.5, 2]}, "encoding": {"detail": {"field": "s"}}}
 ]}
], "spacing": 65, "bounds": "flush"},
{"hconcat": [
{"width": 335, "height": 220, "data": {"name": "d"}, "title": {"text": "(d) CON - Brand only"},
 "encoding": {"x": {"field": "d", "type": "temporal", "title": null, "scale": {"type": "utc", "domain": [{"year": 2013, "month": 12, "date": 1, "utc": true}, {"year": 2016, "month": 4, "date": 1, "utc": true}]}, "axis": {"values": [{"year": 2014, "month": 1, "date": 1, "utc": true}, {"year": 2014, "month": 7, "date": 1, "utc": true}, {"year": 2015, "month": 1, "date": 1, "utc": true}, {"year": 2015, "month": 7, "date": 1, "utc": true}, {"year": 2016, "month": 1, "date": 1, "utc": true}], "labelExpr": "utcFormat(datum.value, \"%b '%y\")"}},
  "y": {"field": "v", "type": "quantitative", "title": null, "scale": {"domain": [-5.953, -3.651], "zero": false, "nice": false}, "axis": {"values": [-5.5, -5.0, -4.5, -4.0], "format": ".1f"}}},
 "layer": [
  {"transform": [{"filter": "datum.s == 'm'"}], "mark": {"type": "line", "color": "#000", "strokeWidth": 1.5}},
  {"transform": [{"filter": "datum.s != 'm'"}], "mark": {"type": "line", "color": "#000", "strokeWidth": 1.2, "strokeDash": [1.5, 2]}, "encoding": {"detail": {"field": "s"}}}
 ]},
{"width": 334, "height": 220, "data": {"name": "e"}, "title": {"text": "(e) CON - Apple"},
 "encoding": {"x": {"field": "d", "type": "temporal", "title": null, "scale": {"type": "utc", "domain": [{"year": 2013, "month": 12, "date": 1, "utc": true}, {"year": 2016, "month": 4, "date": 1, "utc": true}]}, "axis": {"values": [{"year": 2014, "month": 1, "date": 1, "utc": true}, {"year": 2014, "month": 7, "date": 1, "utc": true}, {"year": 2015, "month": 1, "date": 1, "utc": true}, {"year": 2015, "month": 7, "date": 1, "utc": true}, {"year": 2016, "month": 1, "date": 1, "utc": true}], "labelExpr": "utcFormat(datum.value, \"%b '%y\")"}},
  "y": {"field": "v", "type": "quantitative", "title": null, "scale": {"domain": [-1.34, 0.064], "zero": false, "nice": false}, "axis": {"values": [-1.2, -1.0, -0.8, -0.6, -0.4, -0.2, 0.0], "labelExpr": "abs(round(datum.value * 10)) % 4 == 0 ? format(datum.value, '.1f') : ''"}}},
 "layer": [
  {"transform": [{"filter": "datum.s == 'm'"}], "mark": {"type": "line", "color": "#000", "strokeWidth": 1.5}},
  {"transform": [{"filter": "datum.s != 'm'"}], "mark": {"type": "line", "color": "#000", "strokeWidth": 1.2, "strokeDash": [1.5, 2]}, "encoding": {"detail": {"field": "s"}}}
 ]},
{"width": 335, "height": 220, "data": {"name": "f"}, "title": {"text": "(f) CON - Microsoft"},
 "encoding": {"x": {"field": "d", "type": "temporal", "title": null, "scale": {"type": "utc", "domain": [{"year": 2013, "month": 12, "date": 1, "utc": true}, {"year": 2016, "month": 4, "date": 1, "utc": true}]}, "axis": {"values": [{"year": 2014, "month": 1, "date": 1, "utc": true}, {"year": 2014, "month": 7, "date": 1, "utc": true}, {"year": 2015, "month": 1, "date": 1, "utc": true}, {"year": 2015, "month": 7, "date": 1, "utc": true}, {"year": 2016, "month": 1, "date": 1, "utc": true}], "labelExpr": "utcFormat(datum.value, \"%b '%y\")"}},
  "y": {"field": "v", "type": "quantitative", "title": null, "scale": {"domain": [-1.259, 0.813], "zero": false, "nice": false}, "axis": {"values": [-1.0, -0.5, 0.0, 0.5], "format": ".1f"}}},
 "layer": [
  {"transform": [{"filter": "datum.s == 'm'"}], "mark": {"type": "line", "color": "#000", "strokeWidth": 1.5}},
  {"transform": [{"filter": "datum.s != 'm'"}], "mark": {"type": "line", "color": "#000", "strokeWidth": 1.2, "strokeDash": [1.5, 2]}, "encoding": {"detail": {"field": "s"}}}
 ]}
], "spacing": 64, "bounds": "flush"}
]
}
